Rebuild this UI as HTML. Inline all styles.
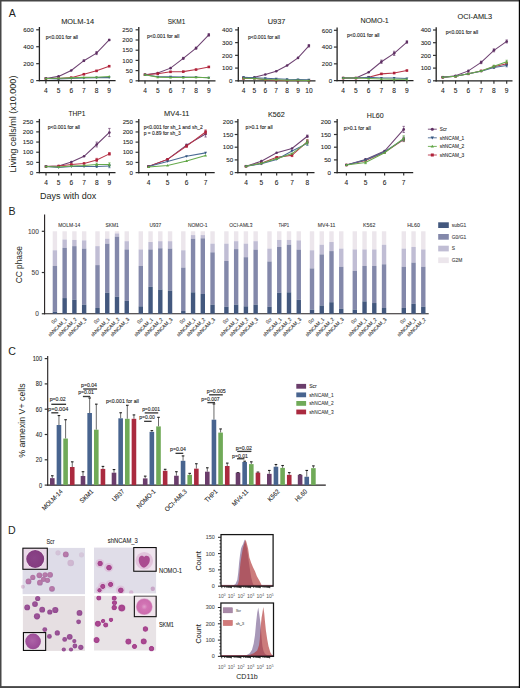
<!DOCTYPE html>
<html><head><meta charset="utf-8"><style>
html,body{margin:0;padding:0;background:#fff;}
svg{display:block;font-family:"Liberation Sans", sans-serif;}
</style></head><body>
<svg width="520" height="688" viewBox="0 0 520 688">
<rect x="0" y="0" width="520" height="688" fill="#fff"/>
<text x="8.70" y="16.80" font-size="10.6" fill="#231f20">A</text>
<line x1="39.40" y1="27.00" x2="39.40" y2="81.20" stroke="#222" stroke-width="1.3"/>
<line x1="36.20" y1="80.60" x2="39.40" y2="80.60" stroke="#333" stroke-width="1.2"/>
<text x="33.70" y="82.80" font-size="6.2" fill="#222" text-anchor="end" stroke="#222" stroke-width="0.08">0</text>
<line x1="36.20" y1="63.67" x2="39.40" y2="63.67" stroke="#333" stroke-width="1.2"/>
<text x="33.70" y="65.87" font-size="6.2" fill="#222" text-anchor="end" stroke="#222" stroke-width="0.08">200</text>
<line x1="36.20" y1="46.73" x2="39.40" y2="46.73" stroke="#333" stroke-width="1.2"/>
<text x="33.70" y="48.93" font-size="6.2" fill="#222" text-anchor="end" stroke="#222" stroke-width="0.08">400</text>
<line x1="36.20" y1="29.80" x2="39.40" y2="29.80" stroke="#333" stroke-width="1.2"/>
<text x="33.70" y="32.00" font-size="6.2" fill="#222" text-anchor="end" stroke="#222" stroke-width="0.08">600</text>
<line x1="38.80" y1="80.60" x2="115.60" y2="80.60" stroke="#222" stroke-width="1.3"/>
<line x1="45.90" y1="80.60" x2="45.90" y2="83.60" stroke="#333" stroke-width="1.2"/>
<text x="45.90" y="92.60" font-size="6.6" fill="#222" text-anchor="middle" stroke="#222" stroke-width="0.08">4</text>
<line x1="58.56" y1="80.60" x2="58.56" y2="83.60" stroke="#333" stroke-width="1.2"/>
<text x="58.56" y="92.60" font-size="6.6" fill="#222" text-anchor="middle" stroke="#222" stroke-width="0.08">5</text>
<line x1="71.22" y1="80.60" x2="71.22" y2="83.60" stroke="#333" stroke-width="1.2"/>
<text x="71.22" y="92.60" font-size="6.6" fill="#222" text-anchor="middle" stroke="#222" stroke-width="0.08">6</text>
<line x1="83.88" y1="80.60" x2="83.88" y2="83.60" stroke="#333" stroke-width="1.2"/>
<text x="83.88" y="92.60" font-size="6.6" fill="#222" text-anchor="middle" stroke="#222" stroke-width="0.08">7</text>
<line x1="96.54" y1="80.60" x2="96.54" y2="83.60" stroke="#333" stroke-width="1.2"/>
<text x="96.54" y="92.60" font-size="6.6" fill="#222" text-anchor="middle" stroke="#222" stroke-width="0.08">8</text>
<line x1="109.20" y1="80.60" x2="109.20" y2="83.60" stroke="#333" stroke-width="1.2"/>
<text x="109.20" y="92.60" font-size="6.6" fill="#222" text-anchor="middle" stroke="#222" stroke-width="0.08">9</text>
<text x="77.65" y="23.80" font-size="7.6" fill="#231f20" text-anchor="middle" textLength="33.00" lengthAdjust="spacingAndGlyphs" stroke="#231f20" stroke-width="0.08">MOLM-14</text>
<text x="45.80" y="38.50" font-size="5.0" fill="#222" textLength="32.20" lengthAdjust="spacingAndGlyphs" stroke="#222" stroke-width="0.1">p&lt;0.001 for all</text>
<polyline points="45.90,78.48 58.56,76.37 71.22,70.44 83.88,60.70 96.54,53.08 109.20,39.96" fill="none" stroke="#6e4272" stroke-width="1.05"/>
<circle cx="45.90" cy="78.48" r="1.30" fill="#5e2f63"/>
<circle cx="58.56" cy="76.37" r="1.30" fill="#5e2f63"/>
<circle cx="71.22" cy="70.44" r="1.30" fill="#5e2f63"/>
<line x1="83.88" y1="59.86" x2="83.88" y2="61.55" stroke="#6e4272" stroke-width="0.7"/>
<line x1="82.68" y1="59.86" x2="85.08" y2="59.86" stroke="#6e4272" stroke-width="0.7"/>
<line x1="82.68" y1="61.55" x2="85.08" y2="61.55" stroke="#6e4272" stroke-width="0.7"/>
<circle cx="83.88" cy="60.70" r="1.30" fill="#5e2f63"/>
<line x1="96.54" y1="51.56" x2="96.54" y2="54.61" stroke="#6e4272" stroke-width="0.7"/>
<line x1="95.34" y1="51.56" x2="97.74" y2="51.56" stroke="#6e4272" stroke-width="0.7"/>
<line x1="95.34" y1="54.61" x2="97.74" y2="54.61" stroke="#6e4272" stroke-width="0.7"/>
<circle cx="96.54" cy="53.08" r="1.30" fill="#5e2f63"/>
<line x1="109.20" y1="39.28" x2="109.20" y2="40.64" stroke="#6e4272" stroke-width="0.7"/>
<line x1="108.00" y1="39.28" x2="110.40" y2="39.28" stroke="#6e4272" stroke-width="0.7"/>
<line x1="108.00" y1="40.64" x2="110.40" y2="40.64" stroke="#6e4272" stroke-width="0.7"/>
<circle cx="109.20" cy="39.96" r="1.30" fill="#5e2f63"/>
<polyline points="45.90,78.48 58.56,78.48 71.22,77.64 83.88,74.25 96.54,70.86 109.20,66.21" fill="none" stroke="#b83448" stroke-width="1.05"/>
<rect x="44.60" y="77.18" width="2.60" height="2.60" fill="#b0223a"/>
<rect x="57.26" y="77.18" width="2.60" height="2.60" fill="#b0223a"/>
<rect x="69.92" y="76.34" width="2.60" height="2.60" fill="#b0223a"/>
<rect x="82.58" y="72.95" width="2.60" height="2.60" fill="#b0223a"/>
<rect x="95.24" y="69.56" width="2.60" height="2.60" fill="#b0223a"/>
<rect x="107.90" y="64.91" width="2.60" height="2.60" fill="#b0223a"/>
<polyline points="45.90,78.48 58.56,78.91 71.22,78.48 83.88,78.06 96.54,77.64 109.20,77.64" fill="none" stroke="#4b6b94" stroke-width="1.05"/>
<path d="M44.47 77.44 L47.33 77.44 L45.90 79.91Z" fill="#33557f"/>
<path d="M57.13 77.87 L59.99 77.87 L58.56 80.34Z" fill="#33557f"/>
<path d="M69.79 77.44 L72.65 77.44 L71.22 79.91Z" fill="#33557f"/>
<path d="M82.45 77.02 L85.31 77.02 L83.88 79.49Z" fill="#33557f"/>
<path d="M95.11 76.60 L97.97 76.60 L96.54 79.07Z" fill="#33557f"/>
<path d="M107.77 76.60 L110.63 76.60 L109.20 79.07Z" fill="#33557f"/>
<polyline points="45.90,78.48 58.56,78.23 71.22,77.89 83.88,77.38 96.54,77.21 109.20,76.54" fill="none" stroke="#66aa4c" stroke-width="1.05"/>
<path d="M44.47 79.52 L47.33 79.52 L45.90 77.05Z" fill="#5da443"/>
<path d="M57.13 79.27 L59.99 79.27 L58.56 76.80Z" fill="#5da443"/>
<path d="M69.79 78.93 L72.65 78.93 L71.22 76.46Z" fill="#5da443"/>
<path d="M82.45 78.42 L85.31 78.42 L83.88 75.95Z" fill="#5da443"/>
<path d="M95.11 78.25 L97.97 78.25 L96.54 75.78Z" fill="#5da443"/>
<path d="M107.77 77.58 L110.63 77.58 L109.20 75.11Z" fill="#5da443"/>
<line x1="138.80" y1="27.00" x2="138.80" y2="81.40" stroke="#222" stroke-width="1.3"/>
<line x1="135.60" y1="80.80" x2="138.80" y2="80.80" stroke="#333" stroke-width="1.2"/>
<text x="132.70" y="83.00" font-size="6.2" fill="#222" text-anchor="end" stroke="#222" stroke-width="0.08">0</text>
<line x1="135.60" y1="70.60" x2="138.80" y2="70.60" stroke="#333" stroke-width="1.2"/>
<text x="132.70" y="72.80" font-size="6.2" fill="#222" text-anchor="end" stroke="#222" stroke-width="0.08">50</text>
<line x1="135.60" y1="60.40" x2="138.80" y2="60.40" stroke="#333" stroke-width="1.2"/>
<text x="132.70" y="62.60" font-size="6.2" fill="#222" text-anchor="end" stroke="#222" stroke-width="0.08">100</text>
<line x1="135.60" y1="50.20" x2="138.80" y2="50.20" stroke="#333" stroke-width="1.2"/>
<text x="132.70" y="52.40" font-size="6.2" fill="#222" text-anchor="end" stroke="#222" stroke-width="0.08">150</text>
<line x1="135.60" y1="40.00" x2="138.80" y2="40.00" stroke="#333" stroke-width="1.2"/>
<text x="132.70" y="42.20" font-size="6.2" fill="#222" text-anchor="end" stroke="#222" stroke-width="0.08">200</text>
<line x1="135.60" y1="29.80" x2="138.80" y2="29.80" stroke="#333" stroke-width="1.2"/>
<text x="132.70" y="32.00" font-size="6.2" fill="#222" text-anchor="end" stroke="#222" stroke-width="0.08">250</text>
<line x1="138.20" y1="80.80" x2="215.50" y2="80.80" stroke="#222" stroke-width="1.3"/>
<line x1="145.00" y1="80.80" x2="145.00" y2="83.80" stroke="#333" stroke-width="1.2"/>
<text x="145.00" y="92.80" font-size="6.6" fill="#222" text-anchor="middle" stroke="#222" stroke-width="0.08">4</text>
<line x1="157.76" y1="80.80" x2="157.76" y2="83.80" stroke="#333" stroke-width="1.2"/>
<text x="157.76" y="92.80" font-size="6.6" fill="#222" text-anchor="middle" stroke="#222" stroke-width="0.08">5</text>
<line x1="170.52" y1="80.80" x2="170.52" y2="83.80" stroke="#333" stroke-width="1.2"/>
<text x="170.52" y="92.80" font-size="6.6" fill="#222" text-anchor="middle" stroke="#222" stroke-width="0.08">6</text>
<line x1="183.28" y1="80.80" x2="183.28" y2="83.80" stroke="#333" stroke-width="1.2"/>
<text x="183.28" y="92.80" font-size="6.6" fill="#222" text-anchor="middle" stroke="#222" stroke-width="0.08">7</text>
<line x1="196.04" y1="80.80" x2="196.04" y2="83.80" stroke="#333" stroke-width="1.2"/>
<text x="196.04" y="92.80" font-size="6.6" fill="#222" text-anchor="middle" stroke="#222" stroke-width="0.08">8</text>
<line x1="208.80" y1="80.80" x2="208.80" y2="83.80" stroke="#333" stroke-width="1.2"/>
<text x="208.80" y="92.80" font-size="6.6" fill="#222" text-anchor="middle" stroke="#222" stroke-width="0.08">9</text>
<text x="176.55" y="23.80" font-size="7.6" fill="#231f20" text-anchor="middle" textLength="17.60" lengthAdjust="spacingAndGlyphs" stroke="#231f20" stroke-width="0.08">SKM1</text>
<text x="147.00" y="38.30" font-size="5.0" fill="#222" textLength="32.30" lengthAdjust="spacingAndGlyphs" stroke="#222" stroke-width="0.1">p&lt;0.001 for all</text>
<polyline points="145.00,74.68 157.76,73.05 170.52,68.15 183.28,58.36 196.04,48.16 208.80,34.90" fill="none" stroke="#6e4272" stroke-width="1.05"/>
<circle cx="145.00" cy="74.68" r="1.30" fill="#5e2f63"/>
<circle cx="157.76" cy="73.05" r="1.30" fill="#5e2f63"/>
<circle cx="170.52" cy="68.15" r="1.30" fill="#5e2f63"/>
<line x1="183.28" y1="57.34" x2="183.28" y2="59.38" stroke="#6e4272" stroke-width="0.7"/>
<line x1="182.08" y1="57.34" x2="184.48" y2="57.34" stroke="#6e4272" stroke-width="0.7"/>
<line x1="182.08" y1="59.38" x2="184.48" y2="59.38" stroke="#6e4272" stroke-width="0.7"/>
<circle cx="183.28" cy="58.36" r="1.30" fill="#5e2f63"/>
<line x1="196.04" y1="47.14" x2="196.04" y2="49.18" stroke="#6e4272" stroke-width="0.7"/>
<line x1="194.84" y1="47.14" x2="197.24" y2="47.14" stroke="#6e4272" stroke-width="0.7"/>
<line x1="194.84" y1="49.18" x2="197.24" y2="49.18" stroke="#6e4272" stroke-width="0.7"/>
<circle cx="196.04" cy="48.16" r="1.30" fill="#5e2f63"/>
<line x1="208.80" y1="33.68" x2="208.80" y2="36.12" stroke="#6e4272" stroke-width="0.7"/>
<line x1="207.60" y1="33.68" x2="210.00" y2="33.68" stroke="#6e4272" stroke-width="0.7"/>
<line x1="207.60" y1="36.12" x2="210.00" y2="36.12" stroke="#6e4272" stroke-width="0.7"/>
<circle cx="208.80" cy="34.90" r="1.30" fill="#5e2f63"/>
<polyline points="145.00,74.68 157.76,73.66 170.52,71.82 183.28,71.62 196.04,69.58 208.80,66.93" fill="none" stroke="#b83448" stroke-width="1.05"/>
<rect x="143.70" y="73.38" width="2.60" height="2.60" fill="#b0223a"/>
<rect x="156.46" y="72.36" width="2.60" height="2.60" fill="#b0223a"/>
<rect x="169.22" y="70.52" width="2.60" height="2.60" fill="#b0223a"/>
<rect x="181.98" y="70.32" width="2.60" height="2.60" fill="#b0223a"/>
<rect x="194.74" y="68.28" width="2.60" height="2.60" fill="#b0223a"/>
<rect x="207.50" y="65.63" width="2.60" height="2.60" fill="#b0223a"/>
<polyline points="145.00,74.68 157.76,76.72 170.52,76.72 183.28,77.13 196.04,77.33 208.80,77.74" fill="none" stroke="#4b6b94" stroke-width="1.05"/>
<path d="M143.57 73.64 L146.43 73.64 L145.00 76.11Z" fill="#33557f"/>
<path d="M156.33 75.68 L159.19 75.68 L157.76 78.15Z" fill="#33557f"/>
<path d="M169.09 75.68 L171.95 75.68 L170.52 78.15Z" fill="#33557f"/>
<path d="M181.85 76.09 L184.71 76.09 L183.28 78.56Z" fill="#33557f"/>
<path d="M194.61 76.29 L197.47 76.29 L196.04 78.76Z" fill="#33557f"/>
<path d="M207.37 76.70 L210.23 76.70 L208.80 79.17Z" fill="#33557f"/>
<polyline points="145.00,74.68 157.76,77.13 170.52,77.54 183.28,77.54 196.04,77.33 208.80,77.74" fill="none" stroke="#66aa4c" stroke-width="1.05"/>
<path d="M143.57 75.72 L146.43 75.72 L145.00 73.25Z" fill="#5da443"/>
<path d="M156.33 78.17 L159.19 78.17 L157.76 75.70Z" fill="#5da443"/>
<path d="M169.09 78.58 L171.95 78.58 L170.52 76.11Z" fill="#5da443"/>
<path d="M181.85 78.58 L184.71 78.58 L183.28 76.11Z" fill="#5da443"/>
<path d="M194.61 78.37 L197.47 78.37 L196.04 75.90Z" fill="#5da443"/>
<path d="M207.37 78.78 L210.23 78.78 L208.80 76.31Z" fill="#5da443"/>
<line x1="238.30" y1="27.10" x2="238.30" y2="81.40" stroke="#222" stroke-width="1.3"/>
<line x1="235.10" y1="80.80" x2="238.30" y2="80.80" stroke="#333" stroke-width="1.2"/>
<text x="232.40" y="83.00" font-size="6.2" fill="#222" text-anchor="end" stroke="#222" stroke-width="0.08">0</text>
<line x1="235.10" y1="68.08" x2="238.30" y2="68.08" stroke="#333" stroke-width="1.2"/>
<text x="232.40" y="70.28" font-size="6.2" fill="#222" text-anchor="end" stroke="#222" stroke-width="0.08">100</text>
<line x1="235.10" y1="55.35" x2="238.30" y2="55.35" stroke="#333" stroke-width="1.2"/>
<text x="232.40" y="57.55" font-size="6.2" fill="#222" text-anchor="end" stroke="#222" stroke-width="0.08">200</text>
<line x1="235.10" y1="42.62" x2="238.30" y2="42.62" stroke="#333" stroke-width="1.2"/>
<text x="232.40" y="44.83" font-size="6.2" fill="#222" text-anchor="end" stroke="#222" stroke-width="0.08">300</text>
<line x1="235.10" y1="29.90" x2="238.30" y2="29.90" stroke="#333" stroke-width="1.2"/>
<text x="232.40" y="32.10" font-size="6.2" fill="#222" text-anchor="end" stroke="#222" stroke-width="0.08">400</text>
<line x1="237.70" y1="80.80" x2="315.50" y2="80.80" stroke="#222" stroke-width="1.3"/>
<line x1="243.50" y1="80.80" x2="243.50" y2="83.80" stroke="#333" stroke-width="1.2"/>
<text x="243.50" y="92.80" font-size="6.6" fill="#222" text-anchor="middle" stroke="#222" stroke-width="0.08">4</text>
<line x1="254.40" y1="80.80" x2="254.40" y2="83.80" stroke="#333" stroke-width="1.2"/>
<text x="254.40" y="92.80" font-size="6.6" fill="#222" text-anchor="middle" stroke="#222" stroke-width="0.08">5</text>
<line x1="265.30" y1="80.80" x2="265.30" y2="83.80" stroke="#333" stroke-width="1.2"/>
<text x="265.30" y="92.80" font-size="6.6" fill="#222" text-anchor="middle" stroke="#222" stroke-width="0.08">6</text>
<line x1="276.20" y1="80.80" x2="276.20" y2="83.80" stroke="#333" stroke-width="1.2"/>
<text x="276.20" y="92.80" font-size="6.6" fill="#222" text-anchor="middle" stroke="#222" stroke-width="0.08">7</text>
<line x1="287.10" y1="80.80" x2="287.10" y2="83.80" stroke="#333" stroke-width="1.2"/>
<text x="287.10" y="92.80" font-size="6.6" fill="#222" text-anchor="middle" stroke="#222" stroke-width="0.08">8</text>
<line x1="298.00" y1="80.80" x2="298.00" y2="83.80" stroke="#333" stroke-width="1.2"/>
<text x="298.00" y="92.80" font-size="6.6" fill="#222" text-anchor="middle" stroke="#222" stroke-width="0.08">9</text>
<line x1="308.90" y1="80.80" x2="308.90" y2="83.80" stroke="#333" stroke-width="1.2"/>
<text x="308.90" y="92.80" font-size="6.6" fill="#222" text-anchor="middle" stroke="#222" stroke-width="0.08">10</text>
<text x="276.55" y="24.40" font-size="7.6" fill="#231f20" text-anchor="middle" textLength="17.60" lengthAdjust="spacingAndGlyphs" stroke="#231f20" stroke-width="0.08">U937</text>
<text x="248.00" y="38.50" font-size="5.0" fill="#222" textLength="31.80" lengthAdjust="spacingAndGlyphs" stroke="#222" stroke-width="0.1">p&lt;0.001 for all</text>
<polyline points="243.50,77.62 254.40,77.24 265.30,74.44 276.20,71.26 287.10,65.53 298.00,57.89 308.90,45.81" fill="none" stroke="#6e4272" stroke-width="1.05"/>
<circle cx="243.50" cy="77.62" r="1.30" fill="#5e2f63"/>
<circle cx="254.40" cy="77.24" r="1.30" fill="#5e2f63"/>
<circle cx="265.30" cy="74.44" r="1.30" fill="#5e2f63"/>
<circle cx="276.20" cy="71.26" r="1.30" fill="#5e2f63"/>
<circle cx="287.10" cy="65.53" r="1.30" fill="#5e2f63"/>
<circle cx="298.00" cy="57.89" r="1.30" fill="#5e2f63"/>
<line x1="308.90" y1="44.53" x2="308.90" y2="47.08" stroke="#6e4272" stroke-width="0.7"/>
<line x1="307.70" y1="44.53" x2="310.10" y2="44.53" stroke="#6e4272" stroke-width="0.7"/>
<line x1="307.70" y1="47.08" x2="310.10" y2="47.08" stroke="#6e4272" stroke-width="0.7"/>
<circle cx="308.90" cy="45.81" r="1.30" fill="#5e2f63"/>
<polyline points="243.50,78.51 254.40,78.25 265.30,79.78 276.20,80.16 287.10,80.42 298.00,80.42 308.90,80.55" fill="none" stroke="#b83448" stroke-width="1.05"/>
<rect x="242.20" y="77.21" width="2.60" height="2.60" fill="#b0223a"/>
<rect x="253.10" y="76.95" width="2.60" height="2.60" fill="#b0223a"/>
<rect x="264.00" y="78.48" width="2.60" height="2.60" fill="#b0223a"/>
<rect x="274.90" y="78.86" width="2.60" height="2.60" fill="#b0223a"/>
<rect x="285.80" y="79.12" width="2.60" height="2.60" fill="#b0223a"/>
<rect x="296.70" y="79.12" width="2.60" height="2.60" fill="#b0223a"/>
<rect x="307.60" y="79.25" width="2.60" height="2.60" fill="#b0223a"/>
<polyline points="243.50,77.24 254.40,77.75 265.30,78.25 276.20,78.76 287.10,79.27 298.00,79.53 308.90,79.78" fill="none" stroke="#4b6b94" stroke-width="1.05"/>
<path d="M242.07 76.20 L244.93 76.20 L243.50 78.67Z" fill="#33557f"/>
<path d="M252.97 76.71 L255.83 76.71 L254.40 79.18Z" fill="#33557f"/>
<path d="M263.87 77.21 L266.73 77.21 L265.30 79.69Z" fill="#33557f"/>
<path d="M274.77 77.72 L277.63 77.72 L276.20 80.19Z" fill="#33557f"/>
<path d="M285.67 78.23 L288.53 78.23 L287.10 80.70Z" fill="#33557f"/>
<path d="M296.57 78.49 L299.43 78.49 L298.00 80.96Z" fill="#33557f"/>
<path d="M307.47 78.74 L310.33 78.74 L308.90 81.21Z" fill="#33557f"/>
<polyline points="243.50,78.25 254.40,78.51 265.30,79.53 276.20,79.78 287.10,80.16 298.00,80.29 308.90,80.42" fill="none" stroke="#66aa4c" stroke-width="1.05"/>
<path d="M242.07 79.30 L244.93 79.30 L243.50 76.82Z" fill="#5da443"/>
<path d="M252.97 79.55 L255.83 79.55 L254.40 77.08Z" fill="#5da443"/>
<path d="M263.87 80.57 L266.73 80.57 L265.30 78.10Z" fill="#5da443"/>
<path d="M274.77 80.82 L277.63 80.82 L276.20 78.35Z" fill="#5da443"/>
<path d="M285.67 81.20 L288.53 81.20 L287.10 78.73Z" fill="#5da443"/>
<path d="M296.57 81.33 L299.43 81.33 L298.00 78.86Z" fill="#5da443"/>
<path d="M307.47 81.46 L310.33 81.46 L308.90 78.99Z" fill="#5da443"/>
<line x1="337.10" y1="27.50" x2="337.10" y2="81.20" stroke="#222" stroke-width="1.3"/>
<line x1="333.90" y1="80.60" x2="337.10" y2="80.60" stroke="#333" stroke-width="1.2"/>
<text x="332.10" y="82.80" font-size="6.2" fill="#222" text-anchor="end" stroke="#222" stroke-width="0.08">0</text>
<line x1="333.90" y1="63.83" x2="337.10" y2="63.83" stroke="#333" stroke-width="1.2"/>
<text x="332.10" y="66.03" font-size="6.2" fill="#222" text-anchor="end" stroke="#222" stroke-width="0.08">200</text>
<line x1="333.90" y1="47.07" x2="337.10" y2="47.07" stroke="#333" stroke-width="1.2"/>
<text x="332.10" y="49.27" font-size="6.2" fill="#222" text-anchor="end" stroke="#222" stroke-width="0.08">400</text>
<line x1="333.90" y1="30.30" x2="337.10" y2="30.30" stroke="#333" stroke-width="1.2"/>
<text x="332.10" y="32.50" font-size="6.2" fill="#222" text-anchor="end" stroke="#222" stroke-width="0.08">600</text>
<line x1="336.50" y1="80.60" x2="413.50" y2="80.60" stroke="#222" stroke-width="1.3"/>
<line x1="343.20" y1="80.60" x2="343.20" y2="83.60" stroke="#333" stroke-width="1.2"/>
<text x="343.20" y="92.60" font-size="6.6" fill="#222" text-anchor="middle" stroke="#222" stroke-width="0.08">4</text>
<line x1="355.94" y1="80.60" x2="355.94" y2="83.60" stroke="#333" stroke-width="1.2"/>
<text x="355.94" y="92.60" font-size="6.6" fill="#222" text-anchor="middle" stroke="#222" stroke-width="0.08">5</text>
<line x1="368.68" y1="80.60" x2="368.68" y2="83.60" stroke="#333" stroke-width="1.2"/>
<text x="368.68" y="92.60" font-size="6.6" fill="#222" text-anchor="middle" stroke="#222" stroke-width="0.08">6</text>
<line x1="381.42" y1="80.60" x2="381.42" y2="83.60" stroke="#333" stroke-width="1.2"/>
<text x="381.42" y="92.60" font-size="6.6" fill="#222" text-anchor="middle" stroke="#222" stroke-width="0.08">7</text>
<line x1="394.16" y1="80.60" x2="394.16" y2="83.60" stroke="#333" stroke-width="1.2"/>
<text x="394.16" y="92.60" font-size="6.6" fill="#222" text-anchor="middle" stroke="#222" stroke-width="0.08">8</text>
<line x1="406.90" y1="80.60" x2="406.90" y2="83.60" stroke="#333" stroke-width="1.2"/>
<text x="406.90" y="92.60" font-size="6.6" fill="#222" text-anchor="middle" stroke="#222" stroke-width="0.08">9</text>
<text x="374.60" y="22.60" font-size="7.6" fill="#231f20" text-anchor="middle" textLength="28.40" lengthAdjust="spacingAndGlyphs" stroke="#231f20" stroke-width="0.08">NOMO-1</text>
<text x="347.00" y="37.10" font-size="5.0" fill="#222" textLength="32.50" lengthAdjust="spacingAndGlyphs" stroke="#222" stroke-width="0.1">p&lt;0.001 for all</text>
<polyline points="343.20,78.08 355.94,78.08 368.68,72.22 381.42,61.74 394.16,53.35 406.90,42.04" fill="none" stroke="#6e4272" stroke-width="1.05"/>
<circle cx="343.20" cy="78.08" r="1.30" fill="#5e2f63"/>
<circle cx="355.94" cy="78.08" r="1.30" fill="#5e2f63"/>
<circle cx="368.68" cy="72.22" r="1.30" fill="#5e2f63"/>
<line x1="381.42" y1="60.06" x2="381.42" y2="63.41" stroke="#6e4272" stroke-width="0.7"/>
<line x1="380.22" y1="60.06" x2="382.62" y2="60.06" stroke="#6e4272" stroke-width="0.7"/>
<line x1="380.22" y1="63.41" x2="382.62" y2="63.41" stroke="#6e4272" stroke-width="0.7"/>
<circle cx="381.42" cy="61.74" r="1.30" fill="#5e2f63"/>
<line x1="394.16" y1="51.26" x2="394.16" y2="55.45" stroke="#6e4272" stroke-width="0.7"/>
<line x1="392.96" y1="51.26" x2="395.36" y2="51.26" stroke="#6e4272" stroke-width="0.7"/>
<line x1="392.96" y1="55.45" x2="395.36" y2="55.45" stroke="#6e4272" stroke-width="0.7"/>
<circle cx="394.16" cy="53.35" r="1.30" fill="#5e2f63"/>
<line x1="406.90" y1="40.78" x2="406.90" y2="43.29" stroke="#6e4272" stroke-width="0.7"/>
<line x1="405.70" y1="40.78" x2="408.10" y2="40.78" stroke="#6e4272" stroke-width="0.7"/>
<line x1="405.70" y1="43.29" x2="408.10" y2="43.29" stroke="#6e4272" stroke-width="0.7"/>
<circle cx="406.90" cy="42.04" r="1.30" fill="#5e2f63"/>
<polyline points="343.20,78.08 355.94,78.08 368.68,77.25 381.42,73.89 394.16,73.05 406.90,70.54" fill="none" stroke="#b83448" stroke-width="1.05"/>
<rect x="341.90" y="76.78" width="2.60" height="2.60" fill="#b0223a"/>
<rect x="354.64" y="76.78" width="2.60" height="2.60" fill="#b0223a"/>
<rect x="367.38" y="75.95" width="2.60" height="2.60" fill="#b0223a"/>
<rect x="380.12" y="72.59" width="2.60" height="2.60" fill="#b0223a"/>
<rect x="392.86" y="71.75" width="2.60" height="2.60" fill="#b0223a"/>
<rect x="405.60" y="69.24" width="2.60" height="2.60" fill="#b0223a"/>
<polyline points="343.20,78.08 355.94,78.08 368.68,77.25 381.42,78.08 394.16,78.08 406.90,78.50" fill="none" stroke="#4b6b94" stroke-width="1.05"/>
<path d="M341.77 77.04 L344.63 77.04 L343.20 79.52Z" fill="#33557f"/>
<path d="M354.51 77.04 L357.37 77.04 L355.94 79.52Z" fill="#33557f"/>
<path d="M367.25 76.21 L370.11 76.21 L368.68 78.68Z" fill="#33557f"/>
<path d="M379.99 77.04 L382.85 77.04 L381.42 79.52Z" fill="#33557f"/>
<path d="M392.73 77.04 L395.59 77.04 L394.16 79.52Z" fill="#33557f"/>
<path d="M405.47 77.46 L408.33 77.46 L406.90 79.93Z" fill="#33557f"/>
<polyline points="343.20,78.08 355.94,78.08 368.68,78.50 381.42,78.92 394.16,79.34 406.90,79.34" fill="none" stroke="#66aa4c" stroke-width="1.05"/>
<path d="M341.77 79.12 L344.63 79.12 L343.20 76.65Z" fill="#5da443"/>
<path d="M354.51 79.12 L357.37 79.12 L355.94 76.65Z" fill="#5da443"/>
<path d="M367.25 79.54 L370.11 79.54 L368.68 77.07Z" fill="#5da443"/>
<path d="M379.99 79.96 L382.85 79.96 L381.42 77.49Z" fill="#5da443"/>
<path d="M392.73 80.38 L395.59 80.38 L394.16 77.91Z" fill="#5da443"/>
<path d="M405.47 80.38 L408.33 80.38 L406.90 77.91Z" fill="#5da443"/>
<line x1="436.20" y1="27.20" x2="436.20" y2="81.40" stroke="#222" stroke-width="1.3"/>
<line x1="433.00" y1="80.80" x2="436.20" y2="80.80" stroke="#333" stroke-width="1.2"/>
<text x="431.00" y="83.00" font-size="6.2" fill="#222" text-anchor="end" stroke="#222" stroke-width="0.08">0</text>
<line x1="433.00" y1="68.10" x2="436.20" y2="68.10" stroke="#333" stroke-width="1.2"/>
<text x="431.00" y="70.30" font-size="6.2" fill="#222" text-anchor="end" stroke="#222" stroke-width="0.08">100</text>
<line x1="433.00" y1="55.40" x2="436.20" y2="55.40" stroke="#333" stroke-width="1.2"/>
<text x="431.00" y="57.60" font-size="6.2" fill="#222" text-anchor="end" stroke="#222" stroke-width="0.08">200</text>
<line x1="433.00" y1="42.70" x2="436.20" y2="42.70" stroke="#333" stroke-width="1.2"/>
<text x="431.00" y="44.90" font-size="6.2" fill="#222" text-anchor="end" stroke="#222" stroke-width="0.08">300</text>
<line x1="433.00" y1="30.00" x2="436.20" y2="30.00" stroke="#333" stroke-width="1.2"/>
<text x="431.00" y="32.20" font-size="6.2" fill="#222" text-anchor="end" stroke="#222" stroke-width="0.08">400</text>
<line x1="435.60" y1="80.80" x2="512.50" y2="80.80" stroke="#222" stroke-width="1.3"/>
<line x1="442.80" y1="80.80" x2="442.80" y2="83.80" stroke="#333" stroke-width="1.2"/>
<text x="442.80" y="92.80" font-size="6.6" fill="#222" text-anchor="middle" stroke="#222" stroke-width="0.08">4</text>
<line x1="455.58" y1="80.80" x2="455.58" y2="83.80" stroke="#333" stroke-width="1.2"/>
<text x="455.58" y="92.80" font-size="6.6" fill="#222" text-anchor="middle" stroke="#222" stroke-width="0.08">5</text>
<line x1="468.36" y1="80.80" x2="468.36" y2="83.80" stroke="#333" stroke-width="1.2"/>
<text x="468.36" y="92.80" font-size="6.6" fill="#222" text-anchor="middle" stroke="#222" stroke-width="0.08">6</text>
<line x1="481.14" y1="80.80" x2="481.14" y2="83.80" stroke="#333" stroke-width="1.2"/>
<text x="481.14" y="92.80" font-size="6.6" fill="#222" text-anchor="middle" stroke="#222" stroke-width="0.08">7</text>
<line x1="493.92" y1="80.80" x2="493.92" y2="83.80" stroke="#333" stroke-width="1.2"/>
<text x="493.92" y="92.80" font-size="6.6" fill="#222" text-anchor="middle" stroke="#222" stroke-width="0.08">8</text>
<line x1="506.70" y1="80.80" x2="506.70" y2="83.80" stroke="#333" stroke-width="1.2"/>
<text x="506.70" y="92.80" font-size="6.6" fill="#222" text-anchor="middle" stroke="#222" stroke-width="0.08">9</text>
<text x="474.85" y="18.80" font-size="7.6" fill="#231f20" text-anchor="middle" textLength="34.70" lengthAdjust="spacingAndGlyphs" stroke="#231f20" stroke-width="0.08">OCI-AML3</text>
<text x="445.70" y="33.80" font-size="5.0" fill="#222" textLength="32.50" lengthAdjust="spacingAndGlyphs" stroke="#222" stroke-width="0.1">p&lt;0.001 for all</text>
<polyline points="442.80,77.24 455.58,75.72 468.36,70.89 481.14,62.38 493.92,50.32 506.70,41.43" fill="none" stroke="#6e4272" stroke-width="1.05"/>
<circle cx="442.80" cy="77.24" r="1.30" fill="#5e2f63"/>
<circle cx="455.58" cy="75.72" r="1.30" fill="#5e2f63"/>
<circle cx="468.36" cy="70.89" r="1.30" fill="#5e2f63"/>
<line x1="481.14" y1="61.11" x2="481.14" y2="63.66" stroke="#6e4272" stroke-width="0.7"/>
<line x1="479.94" y1="61.11" x2="482.34" y2="61.11" stroke="#6e4272" stroke-width="0.7"/>
<line x1="479.94" y1="63.66" x2="482.34" y2="63.66" stroke="#6e4272" stroke-width="0.7"/>
<circle cx="481.14" cy="62.38" r="1.30" fill="#5e2f63"/>
<line x1="493.92" y1="48.80" x2="493.92" y2="51.84" stroke="#6e4272" stroke-width="0.7"/>
<line x1="492.72" y1="48.80" x2="495.12" y2="48.80" stroke="#6e4272" stroke-width="0.7"/>
<line x1="492.72" y1="51.84" x2="495.12" y2="51.84" stroke="#6e4272" stroke-width="0.7"/>
<circle cx="493.92" cy="50.32" r="1.30" fill="#5e2f63"/>
<line x1="506.70" y1="39.91" x2="506.70" y2="42.95" stroke="#6e4272" stroke-width="0.7"/>
<line x1="505.50" y1="39.91" x2="507.90" y2="39.91" stroke="#6e4272" stroke-width="0.7"/>
<line x1="505.50" y1="42.95" x2="507.90" y2="42.95" stroke="#6e4272" stroke-width="0.7"/>
<circle cx="506.70" cy="41.43" r="1.30" fill="#5e2f63"/>
<polyline points="442.80,77.24 455.58,76.35 468.36,73.81 481.14,70.89 493.92,66.83 506.70,63.66" fill="none" stroke="#b83448" stroke-width="1.05"/>
<rect x="441.50" y="75.94" width="2.60" height="2.60" fill="#b0223a"/>
<rect x="454.28" y="75.05" width="2.60" height="2.60" fill="#b0223a"/>
<rect x="467.06" y="72.52" width="2.60" height="2.60" fill="#b0223a"/>
<rect x="479.84" y="69.59" width="2.60" height="2.60" fill="#b0223a"/>
<line x1="493.92" y1="65.81" x2="493.92" y2="67.85" stroke="#b83448" stroke-width="0.7"/>
<line x1="492.72" y1="65.81" x2="495.12" y2="65.81" stroke="#b83448" stroke-width="0.7"/>
<line x1="492.72" y1="67.85" x2="495.12" y2="67.85" stroke="#b83448" stroke-width="0.7"/>
<rect x="492.62" y="65.53" width="2.60" height="2.60" fill="#b0223a"/>
<line x1="506.70" y1="62.13" x2="506.70" y2="65.18" stroke="#b83448" stroke-width="0.7"/>
<line x1="505.50" y1="62.13" x2="507.90" y2="62.13" stroke="#b83448" stroke-width="0.7"/>
<line x1="505.50" y1="65.18" x2="507.90" y2="65.18" stroke="#b83448" stroke-width="0.7"/>
<rect x="505.40" y="62.36" width="2.60" height="2.60" fill="#b0223a"/>
<polyline points="442.80,77.24 455.58,76.35 468.36,73.81 481.14,71.27 493.92,67.47 506.70,65.56" fill="none" stroke="#4b6b94" stroke-width="1.05"/>
<path d="M441.37 76.20 L444.23 76.20 L442.80 78.67Z" fill="#33557f"/>
<path d="M454.15 75.31 L457.01 75.31 L455.58 77.78Z" fill="#33557f"/>
<path d="M466.93 72.77 L469.79 72.77 L468.36 75.25Z" fill="#33557f"/>
<path d="M479.71 70.23 L482.57 70.23 L481.14 72.70Z" fill="#33557f"/>
<line x1="493.92" y1="66.45" x2="493.92" y2="68.48" stroke="#4b6b94" stroke-width="0.7"/>
<line x1="492.72" y1="66.45" x2="495.12" y2="66.45" stroke="#4b6b94" stroke-width="0.7"/>
<line x1="492.72" y1="68.48" x2="495.12" y2="68.48" stroke="#4b6b94" stroke-width="0.7"/>
<path d="M492.49 66.42 L495.35 66.42 L493.92 68.90Z" fill="#33557f"/>
<line x1="506.70" y1="64.29" x2="506.70" y2="66.83" stroke="#4b6b94" stroke-width="0.7"/>
<line x1="505.50" y1="64.29" x2="507.90" y2="64.29" stroke="#4b6b94" stroke-width="0.7"/>
<line x1="505.50" y1="66.83" x2="507.90" y2="66.83" stroke="#4b6b94" stroke-width="0.7"/>
<path d="M505.27 64.52 L508.13 64.52 L506.70 66.99Z" fill="#33557f"/>
<polyline points="442.80,77.24 455.58,76.35 468.36,73.81 481.14,70.89 493.92,66.19 506.70,61.75" fill="none" stroke="#66aa4c" stroke-width="1.05"/>
<path d="M441.37 78.28 L444.23 78.28 L442.80 75.81Z" fill="#5da443"/>
<path d="M454.15 77.39 L457.01 77.39 L455.58 74.92Z" fill="#5da443"/>
<path d="M466.93 74.86 L469.79 74.86 L468.36 72.38Z" fill="#5da443"/>
<path d="M479.71 71.93 L482.57 71.93 L481.14 69.46Z" fill="#5da443"/>
<line x1="493.92" y1="65.18" x2="493.92" y2="67.21" stroke="#66aa4c" stroke-width="0.7"/>
<line x1="492.72" y1="65.18" x2="495.12" y2="65.18" stroke="#66aa4c" stroke-width="0.7"/>
<line x1="492.72" y1="67.21" x2="495.12" y2="67.21" stroke="#66aa4c" stroke-width="0.7"/>
<path d="M492.49 67.23 L495.35 67.23 L493.92 64.76Z" fill="#5da443"/>
<line x1="506.70" y1="60.23" x2="506.70" y2="63.27" stroke="#66aa4c" stroke-width="0.7"/>
<line x1="505.50" y1="60.23" x2="507.90" y2="60.23" stroke="#66aa4c" stroke-width="0.7"/>
<line x1="505.50" y1="63.27" x2="507.90" y2="63.27" stroke="#66aa4c" stroke-width="0.7"/>
<path d="M505.27 62.79 L508.13 62.79 L506.70 60.32Z" fill="#5da443"/>
<line x1="39.40" y1="118.90" x2="39.40" y2="173.20" stroke="#222" stroke-width="1.3"/>
<line x1="36.20" y1="172.60" x2="39.40" y2="172.60" stroke="#333" stroke-width="1.2"/>
<text x="33.10" y="174.80" font-size="6.2" fill="#222" text-anchor="end" stroke="#222" stroke-width="0.08">0</text>
<line x1="36.20" y1="162.42" x2="39.40" y2="162.42" stroke="#333" stroke-width="1.2"/>
<text x="33.10" y="164.62" font-size="6.2" fill="#222" text-anchor="end" stroke="#222" stroke-width="0.08">50</text>
<line x1="36.20" y1="152.24" x2="39.40" y2="152.24" stroke="#333" stroke-width="1.2"/>
<text x="33.10" y="154.44" font-size="6.2" fill="#222" text-anchor="end" stroke="#222" stroke-width="0.08">100</text>
<line x1="36.20" y1="142.06" x2="39.40" y2="142.06" stroke="#333" stroke-width="1.2"/>
<text x="33.10" y="144.26" font-size="6.2" fill="#222" text-anchor="end" stroke="#222" stroke-width="0.08">150</text>
<line x1="36.20" y1="131.88" x2="39.40" y2="131.88" stroke="#333" stroke-width="1.2"/>
<text x="33.10" y="134.08" font-size="6.2" fill="#222" text-anchor="end" stroke="#222" stroke-width="0.08">200</text>
<line x1="36.20" y1="121.70" x2="39.40" y2="121.70" stroke="#333" stroke-width="1.2"/>
<text x="33.10" y="123.90" font-size="6.2" fill="#222" text-anchor="end" stroke="#222" stroke-width="0.08">250</text>
<line x1="38.80" y1="172.60" x2="115.50" y2="172.60" stroke="#222" stroke-width="1.3"/>
<line x1="46.00" y1="172.60" x2="46.00" y2="175.60" stroke="#333" stroke-width="1.2"/>
<text x="46.00" y="184.60" font-size="6.6" fill="#222" text-anchor="middle" stroke="#222" stroke-width="0.08">4</text>
<line x1="58.68" y1="172.60" x2="58.68" y2="175.60" stroke="#333" stroke-width="1.2"/>
<text x="58.68" y="184.60" font-size="6.6" fill="#222" text-anchor="middle" stroke="#222" stroke-width="0.08">5</text>
<line x1="71.36" y1="172.60" x2="71.36" y2="175.60" stroke="#333" stroke-width="1.2"/>
<text x="71.36" y="184.60" font-size="6.6" fill="#222" text-anchor="middle" stroke="#222" stroke-width="0.08">6</text>
<line x1="84.04" y1="172.60" x2="84.04" y2="175.60" stroke="#333" stroke-width="1.2"/>
<text x="84.04" y="184.60" font-size="6.6" fill="#222" text-anchor="middle" stroke="#222" stroke-width="0.08">7</text>
<line x1="96.72" y1="172.60" x2="96.72" y2="175.60" stroke="#333" stroke-width="1.2"/>
<text x="96.72" y="184.60" font-size="6.6" fill="#222" text-anchor="middle" stroke="#222" stroke-width="0.08">8</text>
<line x1="109.40" y1="172.60" x2="109.40" y2="175.60" stroke="#333" stroke-width="1.2"/>
<text x="109.40" y="184.60" font-size="6.6" fill="#222" text-anchor="middle" stroke="#222" stroke-width="0.08">9</text>
<text x="76.95" y="116.40" font-size="7.6" fill="#231f20" text-anchor="middle" textLength="16.90" lengthAdjust="spacingAndGlyphs" stroke="#231f20" stroke-width="0.08">THP1</text>
<text x="47.80" y="128.50" font-size="5.0" fill="#222" textLength="32.20" lengthAdjust="spacingAndGlyphs" stroke="#222" stroke-width="0.1">p&lt;0.001 for all</text>
<polyline points="46.00,166.49 58.68,166.08 71.36,162.01 84.04,156.31 96.72,144.50 109.40,132.49" fill="none" stroke="#6e4272" stroke-width="1.05"/>
<circle cx="46.00" cy="166.49" r="1.30" fill="#5e2f63"/>
<circle cx="58.68" cy="166.08" r="1.30" fill="#5e2f63"/>
<circle cx="71.36" cy="162.01" r="1.30" fill="#5e2f63"/>
<circle cx="84.04" cy="156.31" r="1.30" fill="#5e2f63"/>
<line x1="96.72" y1="142.06" x2="96.72" y2="146.95" stroke="#6e4272" stroke-width="0.7"/>
<line x1="95.52" y1="142.06" x2="97.92" y2="142.06" stroke="#6e4272" stroke-width="0.7"/>
<line x1="95.52" y1="146.95" x2="97.92" y2="146.95" stroke="#6e4272" stroke-width="0.7"/>
<circle cx="96.72" cy="144.50" r="1.30" fill="#5e2f63"/>
<line x1="109.40" y1="128.42" x2="109.40" y2="136.56" stroke="#6e4272" stroke-width="0.7"/>
<line x1="108.20" y1="128.42" x2="110.60" y2="128.42" stroke="#6e4272" stroke-width="0.7"/>
<line x1="108.20" y1="136.56" x2="110.60" y2="136.56" stroke="#6e4272" stroke-width="0.7"/>
<circle cx="109.40" cy="132.49" r="1.30" fill="#5e2f63"/>
<polyline points="46.00,166.49 58.68,166.08 71.36,164.46 84.04,163.44 96.72,159.98 109.40,153.87" fill="none" stroke="#b83448" stroke-width="1.05"/>
<rect x="44.70" y="165.19" width="2.60" height="2.60" fill="#b0223a"/>
<rect x="57.38" y="164.78" width="2.60" height="2.60" fill="#b0223a"/>
<rect x="70.06" y="163.16" width="2.60" height="2.60" fill="#b0223a"/>
<rect x="82.74" y="162.14" width="2.60" height="2.60" fill="#b0223a"/>
<line x1="96.72" y1="158.35" x2="96.72" y2="161.61" stroke="#b83448" stroke-width="0.7"/>
<line x1="95.52" y1="158.35" x2="97.92" y2="158.35" stroke="#b83448" stroke-width="0.7"/>
<line x1="95.52" y1="161.61" x2="97.92" y2="161.61" stroke="#b83448" stroke-width="0.7"/>
<rect x="95.42" y="158.68" width="2.60" height="2.60" fill="#b0223a"/>
<line x1="109.40" y1="152.65" x2="109.40" y2="155.09" stroke="#b83448" stroke-width="0.7"/>
<line x1="108.20" y1="152.65" x2="110.60" y2="152.65" stroke="#b83448" stroke-width="0.7"/>
<line x1="108.20" y1="155.09" x2="110.60" y2="155.09" stroke="#b83448" stroke-width="0.7"/>
<rect x="108.10" y="152.57" width="2.60" height="2.60" fill="#b0223a"/>
<polyline points="46.00,166.49 58.68,167.51 71.36,166.49 84.04,166.49 96.72,166.49 109.40,166.08" fill="none" stroke="#4b6b94" stroke-width="1.05"/>
<path d="M44.57 165.45 L47.43 165.45 L46.00 167.92Z" fill="#33557f"/>
<path d="M57.25 166.47 L60.11 166.47 L58.68 168.94Z" fill="#33557f"/>
<path d="M69.93 165.45 L72.79 165.45 L71.36 167.92Z" fill="#33557f"/>
<path d="M82.61 165.45 L85.47 165.45 L84.04 167.92Z" fill="#33557f"/>
<line x1="96.72" y1="165.68" x2="96.72" y2="167.31" stroke="#4b6b94" stroke-width="0.7"/>
<line x1="95.52" y1="165.68" x2="97.92" y2="165.68" stroke="#4b6b94" stroke-width="0.7"/>
<line x1="95.52" y1="167.31" x2="97.92" y2="167.31" stroke="#4b6b94" stroke-width="0.7"/>
<path d="M95.29 165.45 L98.15 165.45 L96.72 167.92Z" fill="#33557f"/>
<line x1="109.40" y1="164.46" x2="109.40" y2="167.71" stroke="#4b6b94" stroke-width="0.7"/>
<line x1="108.20" y1="164.46" x2="110.60" y2="164.46" stroke="#4b6b94" stroke-width="0.7"/>
<line x1="108.20" y1="167.71" x2="110.60" y2="167.71" stroke="#4b6b94" stroke-width="0.7"/>
<path d="M107.97 165.04 L110.83 165.04 L109.40 167.51Z" fill="#33557f"/>
<polyline points="46.00,166.49 58.68,166.90 71.36,166.08 84.04,165.47 96.72,164.46 109.40,164.46" fill="none" stroke="#66aa4c" stroke-width="1.05"/>
<path d="M44.57 167.53 L47.43 167.53 L46.00 165.06Z" fill="#5da443"/>
<path d="M57.25 167.94 L60.11 167.94 L58.68 165.47Z" fill="#5da443"/>
<path d="M69.93 167.12 L72.79 167.12 L71.36 164.65Z" fill="#5da443"/>
<path d="M82.61 166.51 L85.47 166.51 L84.04 164.04Z" fill="#5da443"/>
<line x1="96.72" y1="163.23" x2="96.72" y2="165.68" stroke="#66aa4c" stroke-width="0.7"/>
<line x1="95.52" y1="163.23" x2="97.92" y2="163.23" stroke="#66aa4c" stroke-width="0.7"/>
<line x1="95.52" y1="165.68" x2="97.92" y2="165.68" stroke="#66aa4c" stroke-width="0.7"/>
<path d="M95.29 165.50 L98.15 165.50 L96.72 163.03Z" fill="#5da443"/>
<line x1="109.40" y1="162.83" x2="109.40" y2="166.08" stroke="#66aa4c" stroke-width="0.7"/>
<line x1="108.20" y1="162.83" x2="110.60" y2="162.83" stroke="#66aa4c" stroke-width="0.7"/>
<line x1="108.20" y1="166.08" x2="110.60" y2="166.08" stroke="#66aa4c" stroke-width="0.7"/>
<path d="M107.97 165.50 L110.83 165.50 L109.40 163.03Z" fill="#5da443"/>
<line x1="138.80" y1="119.00" x2="138.80" y2="173.20" stroke="#222" stroke-width="1.3"/>
<line x1="135.60" y1="172.60" x2="138.80" y2="172.60" stroke="#333" stroke-width="1.2"/>
<text x="133.00" y="174.80" font-size="6.2" fill="#222" text-anchor="end" stroke="#222" stroke-width="0.08">0</text>
<line x1="135.60" y1="162.44" x2="138.80" y2="162.44" stroke="#333" stroke-width="1.2"/>
<text x="133.00" y="164.64" font-size="6.2" fill="#222" text-anchor="end" stroke="#222" stroke-width="0.08">50</text>
<line x1="135.60" y1="152.28" x2="138.80" y2="152.28" stroke="#333" stroke-width="1.2"/>
<text x="133.00" y="154.48" font-size="6.2" fill="#222" text-anchor="end" stroke="#222" stroke-width="0.08">100</text>
<line x1="135.60" y1="142.12" x2="138.80" y2="142.12" stroke="#333" stroke-width="1.2"/>
<text x="133.00" y="144.32" font-size="6.2" fill="#222" text-anchor="end" stroke="#222" stroke-width="0.08">150</text>
<line x1="135.60" y1="131.96" x2="138.80" y2="131.96" stroke="#333" stroke-width="1.2"/>
<text x="133.00" y="134.16" font-size="6.2" fill="#222" text-anchor="end" stroke="#222" stroke-width="0.08">200</text>
<line x1="135.60" y1="121.80" x2="138.80" y2="121.80" stroke="#333" stroke-width="1.2"/>
<text x="133.00" y="124.00" font-size="6.2" fill="#222" text-anchor="end" stroke="#222" stroke-width="0.08">250</text>
<line x1="138.20" y1="172.60" x2="214.70" y2="172.60" stroke="#222" stroke-width="1.3"/>
<line x1="148.50" y1="172.60" x2="148.50" y2="175.60" stroke="#333" stroke-width="1.2"/>
<text x="148.50" y="184.60" font-size="6.6" fill="#222" text-anchor="middle" stroke="#222" stroke-width="0.08">4</text>
<line x1="167.53" y1="172.60" x2="167.53" y2="175.60" stroke="#333" stroke-width="1.2"/>
<text x="167.53" y="184.60" font-size="6.6" fill="#222" text-anchor="middle" stroke="#222" stroke-width="0.08">5</text>
<line x1="186.56" y1="172.60" x2="186.56" y2="175.60" stroke="#333" stroke-width="1.2"/>
<text x="186.56" y="184.60" font-size="6.6" fill="#222" text-anchor="middle" stroke="#222" stroke-width="0.08">6</text>
<line x1="205.59" y1="172.60" x2="205.59" y2="175.60" stroke="#333" stroke-width="1.2"/>
<text x="205.59" y="184.60" font-size="6.6" fill="#222" text-anchor="middle" stroke="#222" stroke-width="0.08">7</text>
<text x="176.80" y="115.50" font-size="7.6" fill="#231f20" text-anchor="middle" textLength="25.40" lengthAdjust="spacingAndGlyphs" stroke="#231f20" stroke-width="0.08">MV4-11</text>
<text x="143.70" y="128.50" font-size="5.0" fill="#222" textLength="59.00" lengthAdjust="spacingAndGlyphs" stroke="#222" stroke-width="0.1">p&lt;0.001 for sh_1 and sh_2</text>
<text x="143.70" y="134.70" font-size="5.0" fill="#222" textLength="37.00" lengthAdjust="spacingAndGlyphs" stroke="#222" stroke-width="0.1">p = 0.89 for sh_3</text>
<polyline points="148.50,166.50 167.53,159.39 186.56,145.17 205.59,133.99" fill="none" stroke="#6e4272" stroke-width="1.05"/>
<circle cx="148.50" cy="166.50" r="1.30" fill="#5e2f63"/>
<circle cx="167.53" cy="159.39" r="1.30" fill="#5e2f63"/>
<line x1="186.56" y1="144.15" x2="186.56" y2="146.18" stroke="#6e4272" stroke-width="0.7"/>
<line x1="185.36" y1="144.15" x2="187.76" y2="144.15" stroke="#6e4272" stroke-width="0.7"/>
<line x1="185.36" y1="146.18" x2="187.76" y2="146.18" stroke="#6e4272" stroke-width="0.7"/>
<circle cx="186.56" cy="145.17" r="1.30" fill="#5e2f63"/>
<line x1="205.59" y1="130.94" x2="205.59" y2="137.04" stroke="#6e4272" stroke-width="0.7"/>
<line x1="204.39" y1="130.94" x2="206.79" y2="130.94" stroke="#6e4272" stroke-width="0.7"/>
<line x1="204.39" y1="137.04" x2="206.79" y2="137.04" stroke="#6e4272" stroke-width="0.7"/>
<circle cx="205.59" cy="133.99" r="1.30" fill="#5e2f63"/>
<polyline points="148.50,166.50 167.53,159.39 186.56,146.18 205.59,131.96" fill="none" stroke="#b83448" stroke-width="1.05"/>
<rect x="147.20" y="165.20" width="2.60" height="2.60" fill="#b0223a"/>
<rect x="166.23" y="158.09" width="2.60" height="2.60" fill="#b0223a"/>
<line x1="186.56" y1="145.17" x2="186.56" y2="147.20" stroke="#b83448" stroke-width="0.7"/>
<line x1="185.36" y1="145.17" x2="187.76" y2="145.17" stroke="#b83448" stroke-width="0.7"/>
<line x1="185.36" y1="147.20" x2="187.76" y2="147.20" stroke="#b83448" stroke-width="0.7"/>
<rect x="185.26" y="144.88" width="2.60" height="2.60" fill="#b0223a"/>
<line x1="205.59" y1="129.93" x2="205.59" y2="133.99" stroke="#b83448" stroke-width="0.7"/>
<line x1="204.39" y1="129.93" x2="206.79" y2="129.93" stroke="#b83448" stroke-width="0.7"/>
<line x1="204.39" y1="133.99" x2="206.79" y2="133.99" stroke="#b83448" stroke-width="0.7"/>
<rect x="204.29" y="130.66" width="2.60" height="2.60" fill="#b0223a"/>
<polyline points="148.50,166.50 167.53,161.42 186.56,156.34 205.59,152.89" fill="none" stroke="#4b6b94" stroke-width="1.05"/>
<path d="M147.07 165.46 L149.93 165.46 L148.50 167.93Z" fill="#33557f"/>
<path d="M166.10 160.38 L168.96 160.38 L167.53 162.85Z" fill="#33557f"/>
<path d="M185.13 155.30 L187.99 155.30 L186.56 157.77Z" fill="#33557f"/>
<path d="M204.16 151.85 L207.02 151.85 L205.59 154.32Z" fill="#33557f"/>
<polyline points="148.50,166.91 167.53,165.49 186.56,161.02 205.59,155.53" fill="none" stroke="#66aa4c" stroke-width="1.05"/>
<path d="M147.07 167.95 L149.93 167.95 L148.50 165.48Z" fill="#5da443"/>
<path d="M166.10 166.53 L168.96 166.53 L167.53 164.06Z" fill="#5da443"/>
<path d="M185.13 162.06 L187.99 162.06 L186.56 159.59Z" fill="#5da443"/>
<path d="M204.16 156.57 L207.02 156.57 L205.59 154.10Z" fill="#5da443"/>
<line x1="237.90" y1="119.00" x2="237.90" y2="173.20" stroke="#222" stroke-width="1.3"/>
<line x1="234.70" y1="172.60" x2="237.90" y2="172.60" stroke="#333" stroke-width="1.2"/>
<text x="233.20" y="174.80" font-size="6.2" fill="#222" text-anchor="end" stroke="#222" stroke-width="0.08">0</text>
<line x1="234.70" y1="159.90" x2="237.90" y2="159.90" stroke="#333" stroke-width="1.2"/>
<text x="233.20" y="162.10" font-size="6.2" fill="#222" text-anchor="end" stroke="#222" stroke-width="0.08">50</text>
<line x1="234.70" y1="147.20" x2="237.90" y2="147.20" stroke="#333" stroke-width="1.2"/>
<text x="233.20" y="149.40" font-size="6.2" fill="#222" text-anchor="end" stroke="#222" stroke-width="0.08">100</text>
<line x1="234.70" y1="134.50" x2="237.90" y2="134.50" stroke="#333" stroke-width="1.2"/>
<text x="233.20" y="136.70" font-size="6.2" fill="#222" text-anchor="end" stroke="#222" stroke-width="0.08">150</text>
<line x1="234.70" y1="121.80" x2="237.90" y2="121.80" stroke="#333" stroke-width="1.2"/>
<text x="233.20" y="124.00" font-size="6.2" fill="#222" text-anchor="end" stroke="#222" stroke-width="0.08">200</text>
<line x1="237.30" y1="172.60" x2="314.50" y2="172.60" stroke="#222" stroke-width="1.3"/>
<line x1="246.00" y1="172.60" x2="246.00" y2="175.60" stroke="#333" stroke-width="1.2"/>
<text x="246.00" y="184.60" font-size="6.6" fill="#222" text-anchor="middle" stroke="#222" stroke-width="0.08">4</text>
<line x1="261.33" y1="172.60" x2="261.33" y2="175.60" stroke="#333" stroke-width="1.2"/>
<text x="261.33" y="184.60" font-size="6.6" fill="#222" text-anchor="middle" stroke="#222" stroke-width="0.08">5</text>
<line x1="276.66" y1="172.60" x2="276.66" y2="175.60" stroke="#333" stroke-width="1.2"/>
<text x="276.66" y="184.60" font-size="6.6" fill="#222" text-anchor="middle" stroke="#222" stroke-width="0.08">6</text>
<line x1="291.99" y1="172.60" x2="291.99" y2="175.60" stroke="#333" stroke-width="1.2"/>
<text x="291.99" y="184.60" font-size="6.6" fill="#222" text-anchor="middle" stroke="#222" stroke-width="0.08">7</text>
<line x1="307.32" y1="172.60" x2="307.32" y2="175.60" stroke="#333" stroke-width="1.2"/>
<text x="307.32" y="184.60" font-size="6.6" fill="#222" text-anchor="middle" stroke="#222" stroke-width="0.08">8</text>
<text x="276.45" y="116.50" font-size="7.6" fill="#231f20" text-anchor="middle" textLength="16.90" lengthAdjust="spacingAndGlyphs" stroke="#231f20" stroke-width="0.08">K562</text>
<text x="245.50" y="128.50" font-size="5.0" fill="#222" textLength="27.20" lengthAdjust="spacingAndGlyphs" stroke="#222" stroke-width="0.1">p&gt;0.1 for all</text>
<polyline points="246.00,166.25 261.33,161.17 276.66,152.79 291.99,148.47 307.32,136.28" fill="none" stroke="#6e4272" stroke-width="1.05"/>
<circle cx="246.00" cy="166.25" r="1.30" fill="#5e2f63"/>
<circle cx="261.33" cy="161.17" r="1.30" fill="#5e2f63"/>
<circle cx="276.66" cy="152.79" r="1.30" fill="#5e2f63"/>
<circle cx="291.99" cy="148.47" r="1.30" fill="#5e2f63"/>
<line x1="307.32" y1="135.01" x2="307.32" y2="137.55" stroke="#6e4272" stroke-width="0.7"/>
<line x1="306.12" y1="135.01" x2="308.52" y2="135.01" stroke="#6e4272" stroke-width="0.7"/>
<line x1="306.12" y1="137.55" x2="308.52" y2="137.55" stroke="#6e4272" stroke-width="0.7"/>
<circle cx="307.32" cy="136.28" r="1.30" fill="#5e2f63"/>
<polyline points="246.00,166.25 261.33,163.20 276.66,157.36 291.99,155.33 307.32,141.61" fill="none" stroke="#b83448" stroke-width="1.05"/>
<rect x="244.70" y="164.95" width="2.60" height="2.60" fill="#b0223a"/>
<rect x="260.03" y="161.90" width="2.60" height="2.60" fill="#b0223a"/>
<rect x="275.36" y="156.06" width="2.60" height="2.60" fill="#b0223a"/>
<line x1="291.99" y1="154.06" x2="291.99" y2="156.60" stroke="#b83448" stroke-width="0.7"/>
<line x1="290.79" y1="154.06" x2="293.19" y2="154.06" stroke="#b83448" stroke-width="0.7"/>
<line x1="290.79" y1="156.60" x2="293.19" y2="156.60" stroke="#b83448" stroke-width="0.7"/>
<rect x="290.69" y="154.03" width="2.60" height="2.60" fill="#b0223a"/>
<line x1="307.32" y1="139.58" x2="307.32" y2="143.64" stroke="#b83448" stroke-width="0.7"/>
<line x1="306.12" y1="139.58" x2="308.52" y2="139.58" stroke="#b83448" stroke-width="0.7"/>
<line x1="306.12" y1="143.64" x2="308.52" y2="143.64" stroke="#b83448" stroke-width="0.7"/>
<rect x="306.02" y="140.31" width="2.60" height="2.60" fill="#b0223a"/>
<polyline points="246.00,166.25 261.33,163.71 276.66,159.39 291.99,151.01 307.32,143.39" fill="none" stroke="#4b6b94" stroke-width="1.05"/>
<path d="M244.57 165.21 L247.43 165.21 L246.00 167.68Z" fill="#33557f"/>
<path d="M259.90 162.67 L262.76 162.67 L261.33 165.14Z" fill="#33557f"/>
<path d="M275.23 158.35 L278.09 158.35 L276.66 160.82Z" fill="#33557f"/>
<path d="M290.56 149.97 L293.42 149.97 L291.99 152.44Z" fill="#33557f"/>
<line x1="307.32" y1="141.36" x2="307.32" y2="145.42" stroke="#4b6b94" stroke-width="0.7"/>
<line x1="306.12" y1="141.36" x2="308.52" y2="141.36" stroke="#4b6b94" stroke-width="0.7"/>
<line x1="306.12" y1="145.42" x2="308.52" y2="145.42" stroke="#4b6b94" stroke-width="0.7"/>
<path d="M305.89 142.35 L308.75 142.35 L307.32 144.82Z" fill="#33557f"/>
<polyline points="246.00,166.25 261.33,163.20 276.66,158.63 291.99,153.55 307.32,142.12" fill="none" stroke="#66aa4c" stroke-width="1.05"/>
<path d="M244.57 167.29 L247.43 167.29 L246.00 164.82Z" fill="#5da443"/>
<path d="M259.90 164.24 L262.76 164.24 L261.33 161.77Z" fill="#5da443"/>
<path d="M275.23 159.67 L278.09 159.67 L276.66 157.20Z" fill="#5da443"/>
<path d="M290.56 154.59 L293.42 154.59 L291.99 152.12Z" fill="#5da443"/>
<line x1="307.32" y1="140.09" x2="307.32" y2="144.15" stroke="#66aa4c" stroke-width="0.7"/>
<line x1="306.12" y1="140.09" x2="308.52" y2="140.09" stroke="#66aa4c" stroke-width="0.7"/>
<line x1="306.12" y1="144.15" x2="308.52" y2="144.15" stroke="#66aa4c" stroke-width="0.7"/>
<path d="M305.89 143.16 L308.75 143.16 L307.32 140.69Z" fill="#5da443"/>
<line x1="337.15" y1="119.00" x2="337.15" y2="173.20" stroke="#222" stroke-width="1.3"/>
<line x1="333.95" y1="172.60" x2="337.15" y2="172.60" stroke="#333" stroke-width="1.2"/>
<text x="331.05" y="174.80" font-size="6.2" fill="#222" text-anchor="end" stroke="#222" stroke-width="0.08">0</text>
<line x1="333.95" y1="159.90" x2="337.15" y2="159.90" stroke="#333" stroke-width="1.2"/>
<text x="331.05" y="162.10" font-size="6.2" fill="#222" text-anchor="end" stroke="#222" stroke-width="0.08">50</text>
<line x1="333.95" y1="147.20" x2="337.15" y2="147.20" stroke="#333" stroke-width="1.2"/>
<text x="331.05" y="149.40" font-size="6.2" fill="#222" text-anchor="end" stroke="#222" stroke-width="0.08">100</text>
<line x1="333.95" y1="134.50" x2="337.15" y2="134.50" stroke="#333" stroke-width="1.2"/>
<text x="331.05" y="136.70" font-size="6.2" fill="#222" text-anchor="end" stroke="#222" stroke-width="0.08">150</text>
<line x1="333.95" y1="121.80" x2="337.15" y2="121.80" stroke="#333" stroke-width="1.2"/>
<text x="331.05" y="124.00" font-size="6.2" fill="#222" text-anchor="end" stroke="#222" stroke-width="0.08">200</text>
<line x1="336.55" y1="172.60" x2="413.20" y2="172.60" stroke="#222" stroke-width="1.3"/>
<line x1="346.40" y1="172.60" x2="346.40" y2="175.60" stroke="#333" stroke-width="1.2"/>
<text x="346.40" y="184.60" font-size="6.6" fill="#222" text-anchor="middle" stroke="#222" stroke-width="0.08">4</text>
<line x1="365.50" y1="172.60" x2="365.50" y2="175.60" stroke="#333" stroke-width="1.2"/>
<text x="365.50" y="184.60" font-size="6.6" fill="#222" text-anchor="middle" stroke="#222" stroke-width="0.08">5</text>
<line x1="384.60" y1="172.60" x2="384.60" y2="175.60" stroke="#333" stroke-width="1.2"/>
<text x="384.60" y="184.60" font-size="6.6" fill="#222" text-anchor="middle" stroke="#222" stroke-width="0.08">6</text>
<line x1="403.70" y1="172.60" x2="403.70" y2="175.60" stroke="#333" stroke-width="1.2"/>
<text x="403.70" y="184.60" font-size="6.6" fill="#222" text-anchor="middle" stroke="#222" stroke-width="0.08">7</text>
<text x="375.25" y="117.60" font-size="7.6" fill="#231f20" text-anchor="middle" textLength="16.90" lengthAdjust="spacingAndGlyphs" stroke="#231f20" stroke-width="0.08">HL60</text>
<text x="343.80" y="130.30" font-size="5.0" fill="#222" textLength="27.00" lengthAdjust="spacingAndGlyphs" stroke="#222" stroke-width="0.1">p&gt;0.1 for all</text>
<polyline points="346.40,164.98 365.50,159.39 384.60,151.01 403.70,129.42" fill="none" stroke="#6e4272" stroke-width="1.05"/>
<circle cx="346.40" cy="164.98" r="1.30" fill="#5e2f63"/>
<circle cx="365.50" cy="159.39" r="1.30" fill="#5e2f63"/>
<circle cx="384.60" cy="151.01" r="1.30" fill="#5e2f63"/>
<line x1="403.70" y1="126.37" x2="403.70" y2="132.47" stroke="#6e4272" stroke-width="0.7"/>
<line x1="402.50" y1="126.37" x2="404.90" y2="126.37" stroke="#6e4272" stroke-width="0.7"/>
<line x1="402.50" y1="132.47" x2="404.90" y2="132.47" stroke="#6e4272" stroke-width="0.7"/>
<circle cx="403.70" cy="129.42" r="1.30" fill="#5e2f63"/>
<polyline points="346.40,164.98 365.50,160.41 384.60,152.28 403.70,139.58" fill="none" stroke="#b83448" stroke-width="1.05"/>
<rect x="345.10" y="163.68" width="2.60" height="2.60" fill="#b0223a"/>
<rect x="364.20" y="159.11" width="2.60" height="2.60" fill="#b0223a"/>
<rect x="383.30" y="150.98" width="2.60" height="2.60" fill="#b0223a"/>
<line x1="403.70" y1="137.55" x2="403.70" y2="141.61" stroke="#b83448" stroke-width="0.7"/>
<line x1="402.50" y1="137.55" x2="404.90" y2="137.55" stroke="#b83448" stroke-width="0.7"/>
<line x1="402.50" y1="141.61" x2="404.90" y2="141.61" stroke="#b83448" stroke-width="0.7"/>
<rect x="402.40" y="138.28" width="2.60" height="2.60" fill="#b0223a"/>
<polyline points="346.40,164.98 365.50,159.90 384.60,151.77 403.70,139.07" fill="none" stroke="#4b6b94" stroke-width="1.05"/>
<path d="M344.97 163.94 L347.83 163.94 L346.40 166.41Z" fill="#33557f"/>
<path d="M364.07 158.86 L366.93 158.86 L365.50 161.33Z" fill="#33557f"/>
<path d="M383.17 150.73 L386.03 150.73 L384.60 153.20Z" fill="#33557f"/>
<line x1="403.70" y1="137.04" x2="403.70" y2="141.10" stroke="#4b6b94" stroke-width="0.7"/>
<line x1="402.50" y1="137.04" x2="404.90" y2="137.04" stroke="#4b6b94" stroke-width="0.7"/>
<line x1="402.50" y1="141.10" x2="404.90" y2="141.10" stroke="#4b6b94" stroke-width="0.7"/>
<path d="M402.27 138.03 L405.13 138.03 L403.70 140.50Z" fill="#33557f"/>
<polyline points="346.40,164.98 365.50,162.44 384.60,152.79 403.70,138.31" fill="none" stroke="#66aa4c" stroke-width="1.05"/>
<path d="M344.97 166.02 L347.83 166.02 L346.40 163.55Z" fill="#5da443"/>
<line x1="365.50" y1="161.17" x2="365.50" y2="163.71" stroke="#66aa4c" stroke-width="0.7"/>
<line x1="364.30" y1="161.17" x2="366.70" y2="161.17" stroke="#66aa4c" stroke-width="0.7"/>
<line x1="364.30" y1="163.71" x2="366.70" y2="163.71" stroke="#66aa4c" stroke-width="0.7"/>
<path d="M364.07 163.48 L366.93 163.48 L365.50 161.01Z" fill="#5da443"/>
<path d="M383.17 153.83 L386.03 153.83 L384.60 151.36Z" fill="#5da443"/>
<line x1="403.70" y1="135.77" x2="403.70" y2="140.85" stroke="#66aa4c" stroke-width="0.7"/>
<line x1="402.50" y1="135.77" x2="404.90" y2="135.77" stroke="#66aa4c" stroke-width="0.7"/>
<line x1="402.50" y1="140.85" x2="404.90" y2="140.85" stroke="#66aa4c" stroke-width="0.7"/>
<path d="M402.27 139.35 L405.13 139.35 L403.70 136.88Z" fill="#5da443"/>
<line x1="427.90" y1="129.20" x2="436.80" y2="129.20" stroke="#6e4272" stroke-width="0.9"/>
<circle cx="432.30" cy="129.20" r="1.50" fill="#5e2f63"/>
<text x="439.80" y="131.10" font-size="5.1" fill="#333" textLength="7.00" lengthAdjust="spacingAndGlyphs" stroke="#333" stroke-width="0.1">Scr</text>
<line x1="427.90" y1="137.80" x2="436.80" y2="137.80" stroke="#4b6b94" stroke-width="0.9"/>
<path d="M430.65 136.60 L433.95 136.60 L432.30 139.45Z" fill="#33557f"/>
<text x="439.80" y="139.70" font-size="5.1" fill="#333" textLength="24.40" lengthAdjust="spacingAndGlyphs" stroke="#333" stroke-width="0.1">shNCAM_1</text>
<line x1="427.90" y1="146.40" x2="436.80" y2="146.40" stroke="#66aa4c" stroke-width="0.9"/>
<path d="M430.65 147.60 L433.95 147.60 L432.30 144.75Z" fill="#5da443"/>
<text x="439.80" y="148.30" font-size="5.1" fill="#333" textLength="24.40" lengthAdjust="spacingAndGlyphs" stroke="#333" stroke-width="0.1">shNCAM_2</text>
<line x1="427.90" y1="155.00" x2="436.80" y2="155.00" stroke="#b83448" stroke-width="0.9"/>
<rect x="430.80" y="153.50" width="3.00" height="3.00" fill="#b0223a"/>
<text x="439.80" y="156.90" font-size="5.1" fill="#333" textLength="24.40" lengthAdjust="spacingAndGlyphs" stroke="#333" stroke-width="0.1">shNCAM_3</text>
<text x="15.60" y="124.00" font-size="9.8" fill="#231f20" text-anchor="middle" textLength="96.80" lengthAdjust="spacingAndGlyphs" transform="rotate(-90 15.60 124.00)">Living cells/ml (x10.000)</text>
<text x="68.15" y="198.90" font-size="9.2" fill="#231f20" text-anchor="middle" textLength="56.10" lengthAdjust="spacingAndGlyphs">Days with dox</text>
<text x="8.50" y="214.60" font-size="10.6" fill="#231f20">B</text>
<line x1="44.60" y1="214.50" x2="44.60" y2="314.25" stroke="#231f20" stroke-width="1.1"/>
<line x1="41.80" y1="313.75" x2="44.60" y2="313.75" stroke="#333" stroke-width="1.2"/>
<text x="38.80" y="316.05" font-size="6.5" fill="#444" text-anchor="end" stroke="#444" stroke-width="0.08">0</text>
<line x1="41.80" y1="272.52" x2="44.60" y2="272.52" stroke="#333" stroke-width="1.2"/>
<text x="38.80" y="274.82" font-size="6.5" fill="#444" text-anchor="end" stroke="#444" stroke-width="0.08">50</text>
<line x1="41.80" y1="231.30" x2="44.60" y2="231.30" stroke="#333" stroke-width="1.2"/>
<text x="38.80" y="233.60" font-size="6.5" fill="#444" text-anchor="end" stroke="#444" stroke-width="0.08">100</text>
<line x1="44.10" y1="313.75" x2="428.70" y2="313.75" stroke="#231f20" stroke-width="1.1"/>
<rect x="52.70" y="231.30" width="4.40" height="18.96" fill="#ece6ec"/>
<rect x="52.70" y="250.26" width="4.40" height="15.67" fill="#c0bdd4"/>
<rect x="52.70" y="265.93" width="4.40" height="45.68" fill="#8388aa"/>
<rect x="52.70" y="311.61" width="4.40" height="2.14" fill="#43587e"/>
<text x="57.70" y="319.75" font-size="5.0" fill="#333" text-anchor="end" textLength="6.40" lengthAdjust="spacingAndGlyphs" transform="rotate(-45 57.70 319.75)" stroke="#333" stroke-width="0.1">Scr</text>
<rect x="62.45" y="231.30" width="4.40" height="8.24" fill="#ece6ec"/>
<rect x="62.45" y="239.55" width="4.40" height="8.24" fill="#c0bdd4"/>
<rect x="62.45" y="247.79" width="4.40" height="50.29" fill="#8388aa"/>
<rect x="62.45" y="298.08" width="4.40" height="15.67" fill="#43587e"/>
<text x="67.45" y="319.75" font-size="5.0" fill="#333" text-anchor="end" textLength="24.20" lengthAdjust="spacingAndGlyphs" transform="rotate(-45 67.45 319.75)" stroke="#333" stroke-width="0.1">shNCAM_1</text>
<rect x="72.20" y="231.30" width="4.40" height="8.66" fill="#ece6ec"/>
<rect x="72.20" y="239.96" width="4.40" height="6.18" fill="#c0bdd4"/>
<rect x="72.20" y="246.14" width="4.40" height="53.59" fill="#8388aa"/>
<rect x="72.20" y="299.73" width="4.40" height="14.02" fill="#43587e"/>
<text x="77.20" y="319.75" font-size="5.0" fill="#333" text-anchor="end" textLength="24.20" lengthAdjust="spacingAndGlyphs" transform="rotate(-45 77.20 319.75)" stroke="#333" stroke-width="0.1">shNCAM_2</text>
<rect x="81.95" y="231.30" width="4.40" height="9.07" fill="#ece6ec"/>
<rect x="81.95" y="240.37" width="4.40" height="8.24" fill="#c0bdd4"/>
<rect x="81.95" y="248.61" width="4.40" height="56.07" fill="#8388aa"/>
<rect x="81.95" y="304.68" width="4.40" height="9.07" fill="#43587e"/>
<text x="86.95" y="319.75" font-size="5.0" fill="#333" text-anchor="end" textLength="24.20" lengthAdjust="spacingAndGlyphs" transform="rotate(-45 86.95 319.75)" stroke="#333" stroke-width="0.1">shNCAM_3</text>
<text x="69.30" y="226.90" font-size="5.6" fill="#333" text-anchor="middle" textLength="22.20" lengthAdjust="spacingAndGlyphs" stroke="#333" stroke-width="0.08">MOLM-14</text>
<rect x="95.30" y="231.30" width="4.40" height="14.84" fill="#ece6ec"/>
<rect x="95.30" y="246.14" width="4.40" height="18.96" fill="#c0bdd4"/>
<rect x="95.30" y="265.10" width="4.40" height="42.87" fill="#8388aa"/>
<rect x="95.30" y="307.98" width="4.40" height="5.77" fill="#43587e"/>
<text x="100.30" y="319.75" font-size="5.0" fill="#333" text-anchor="end" textLength="6.40" lengthAdjust="spacingAndGlyphs" transform="rotate(-45 100.30 319.75)" stroke="#333" stroke-width="0.1">Scr</text>
<rect x="105.05" y="231.30" width="4.40" height="7.42" fill="#ece6ec"/>
<rect x="105.05" y="238.72" width="4.40" height="4.95" fill="#c0bdd4"/>
<rect x="105.05" y="243.67" width="4.40" height="49.06" fill="#8388aa"/>
<rect x="105.05" y="292.73" width="4.40" height="21.02" fill="#43587e"/>
<text x="110.05" y="319.75" font-size="5.0" fill="#333" text-anchor="end" textLength="24.20" lengthAdjust="spacingAndGlyphs" transform="rotate(-45 110.05 319.75)" stroke="#333" stroke-width="0.1">shNCAM_1</text>
<rect x="114.80" y="231.30" width="4.40" height="2.14" fill="#ece6ec"/>
<rect x="114.80" y="233.44" width="4.40" height="3.22" fill="#c0bdd4"/>
<rect x="114.80" y="236.66" width="4.40" height="60.11" fill="#8388aa"/>
<rect x="114.80" y="296.77" width="4.40" height="16.98" fill="#43587e"/>
<text x="119.80" y="319.75" font-size="5.0" fill="#333" text-anchor="end" textLength="24.20" lengthAdjust="spacingAndGlyphs" transform="rotate(-45 119.80 319.75)" stroke="#333" stroke-width="0.1">shNCAM_2</text>
<rect x="124.55" y="231.30" width="4.40" height="9.89" fill="#ece6ec"/>
<rect x="124.55" y="241.19" width="4.40" height="8.24" fill="#c0bdd4"/>
<rect x="124.55" y="249.44" width="4.40" height="51.37" fill="#8388aa"/>
<rect x="124.55" y="300.81" width="4.40" height="12.94" fill="#43587e"/>
<text x="129.55" y="319.75" font-size="5.0" fill="#333" text-anchor="end" textLength="24.20" lengthAdjust="spacingAndGlyphs" transform="rotate(-45 129.55 319.75)" stroke="#333" stroke-width="0.1">shNCAM_3</text>
<text x="112.10" y="226.90" font-size="5.6" fill="#333" text-anchor="middle" textLength="13.20" lengthAdjust="spacingAndGlyphs" stroke="#333" stroke-width="0.08">SKM1</text>
<rect x="138.60" y="231.30" width="4.40" height="18.14" fill="#ece6ec"/>
<rect x="138.60" y="249.44" width="4.40" height="16.49" fill="#c0bdd4"/>
<rect x="138.60" y="265.93" width="4.40" height="40.40" fill="#8388aa"/>
<rect x="138.60" y="306.33" width="4.40" height="7.42" fill="#43587e"/>
<text x="143.60" y="319.75" font-size="5.0" fill="#333" text-anchor="end" textLength="6.40" lengthAdjust="spacingAndGlyphs" transform="rotate(-45 143.60 319.75)" stroke="#333" stroke-width="0.1">Scr</text>
<rect x="148.35" y="231.30" width="4.40" height="10.72" fill="#ece6ec"/>
<rect x="148.35" y="242.02" width="4.40" height="7.42" fill="#c0bdd4"/>
<rect x="148.35" y="249.44" width="4.40" height="37.35" fill="#8388aa"/>
<rect x="148.35" y="286.79" width="4.40" height="26.96" fill="#43587e"/>
<text x="153.35" y="319.75" font-size="5.0" fill="#333" text-anchor="end" textLength="24.20" lengthAdjust="spacingAndGlyphs" transform="rotate(-45 153.35 319.75)" stroke="#333" stroke-width="0.1">shNCAM_1</text>
<rect x="158.10" y="231.30" width="4.40" height="9.89" fill="#ece6ec"/>
<rect x="158.10" y="241.19" width="4.40" height="7.09" fill="#c0bdd4"/>
<rect x="158.10" y="248.28" width="4.40" height="41.23" fill="#8388aa"/>
<rect x="158.10" y="289.51" width="4.40" height="24.24" fill="#43587e"/>
<text x="163.10" y="319.75" font-size="5.0" fill="#333" text-anchor="end" textLength="24.20" lengthAdjust="spacingAndGlyphs" transform="rotate(-45 163.10 319.75)" stroke="#333" stroke-width="0.1">shNCAM_2</text>
<rect x="167.85" y="231.30" width="4.40" height="9.89" fill="#ece6ec"/>
<rect x="167.85" y="241.19" width="4.40" height="7.42" fill="#c0bdd4"/>
<rect x="167.85" y="248.61" width="4.40" height="42.05" fill="#8388aa"/>
<rect x="167.85" y="290.66" width="4.40" height="23.09" fill="#43587e"/>
<text x="172.85" y="319.75" font-size="5.0" fill="#333" text-anchor="end" textLength="24.20" lengthAdjust="spacingAndGlyphs" transform="rotate(-45 172.85 319.75)" stroke="#333" stroke-width="0.1">shNCAM_3</text>
<text x="155.40" y="226.90" font-size="5.6" fill="#333" text-anchor="middle" textLength="11.70" lengthAdjust="spacingAndGlyphs" stroke="#333" stroke-width="0.08">U937</text>
<rect x="181.10" y="231.30" width="4.40" height="18.96" fill="#ece6ec"/>
<rect x="181.10" y="250.26" width="4.40" height="17.31" fill="#c0bdd4"/>
<rect x="181.10" y="267.58" width="4.40" height="43.45" fill="#8388aa"/>
<rect x="181.10" y="311.03" width="4.40" height="2.72" fill="#43587e"/>
<text x="186.10" y="319.75" font-size="5.0" fill="#333" text-anchor="end" textLength="6.40" lengthAdjust="spacingAndGlyphs" transform="rotate(-45 186.10 319.75)" stroke="#333" stroke-width="0.1">Scr</text>
<rect x="190.85" y="231.30" width="4.40" height="3.79" fill="#ece6ec"/>
<rect x="190.85" y="235.09" width="4.40" height="3.63" fill="#c0bdd4"/>
<rect x="190.85" y="238.72" width="4.40" height="53.59" fill="#8388aa"/>
<rect x="190.85" y="292.31" width="4.40" height="21.44" fill="#43587e"/>
<text x="195.85" y="319.75" font-size="5.0" fill="#333" text-anchor="end" textLength="24.20" lengthAdjust="spacingAndGlyphs" transform="rotate(-45 195.85 319.75)" stroke="#333" stroke-width="0.1">shNCAM_1</text>
<rect x="200.60" y="231.30" width="4.40" height="3.79" fill="#ece6ec"/>
<rect x="200.60" y="235.09" width="4.40" height="3.22" fill="#c0bdd4"/>
<rect x="200.60" y="238.31" width="4.40" height="55.65" fill="#8388aa"/>
<rect x="200.60" y="293.96" width="4.40" height="19.79" fill="#43587e"/>
<text x="205.60" y="319.75" font-size="5.0" fill="#333" text-anchor="end" textLength="24.20" lengthAdjust="spacingAndGlyphs" transform="rotate(-45 205.60 319.75)" stroke="#333" stroke-width="0.1">shNCAM_2</text>
<rect x="210.35" y="231.30" width="4.40" height="12.37" fill="#ece6ec"/>
<rect x="210.35" y="243.67" width="4.40" height="8.66" fill="#c0bdd4"/>
<rect x="210.35" y="252.32" width="4.40" height="52.36" fill="#8388aa"/>
<rect x="210.35" y="304.68" width="4.40" height="9.07" fill="#43587e"/>
<text x="215.35" y="319.75" font-size="5.0" fill="#333" text-anchor="end" textLength="24.20" lengthAdjust="spacingAndGlyphs" transform="rotate(-45 215.35 319.75)" stroke="#333" stroke-width="0.1">shNCAM_3</text>
<text x="197.75" y="226.90" font-size="5.6" fill="#333" text-anchor="middle" textLength="19.70" lengthAdjust="spacingAndGlyphs" stroke="#333" stroke-width="0.08">NOMO-1</text>
<rect x="224.20" y="231.30" width="4.40" height="12.37" fill="#ece6ec"/>
<rect x="224.20" y="243.67" width="4.40" height="17.31" fill="#c0bdd4"/>
<rect x="224.20" y="260.98" width="4.40" height="45.76" fill="#8388aa"/>
<rect x="224.20" y="306.74" width="4.40" height="7.01" fill="#43587e"/>
<text x="229.20" y="319.75" font-size="5.0" fill="#333" text-anchor="end" textLength="6.40" lengthAdjust="spacingAndGlyphs" transform="rotate(-45 229.20 319.75)" stroke="#333" stroke-width="0.1">Scr</text>
<rect x="233.95" y="231.30" width="4.40" height="9.89" fill="#ece6ec"/>
<rect x="233.95" y="241.19" width="4.40" height="7.92" fill="#c0bdd4"/>
<rect x="233.95" y="249.11" width="4.40" height="55.57" fill="#8388aa"/>
<rect x="233.95" y="304.68" width="4.40" height="9.07" fill="#43587e"/>
<text x="238.95" y="319.75" font-size="5.0" fill="#333" text-anchor="end" textLength="24.20" lengthAdjust="spacingAndGlyphs" transform="rotate(-45 238.95 319.75)" stroke="#333" stroke-width="0.1">shNCAM_1</text>
<rect x="243.70" y="231.30" width="4.40" height="12.37" fill="#ece6ec"/>
<rect x="243.70" y="243.67" width="4.40" height="13.52" fill="#c0bdd4"/>
<rect x="243.70" y="257.19" width="4.40" height="49.14" fill="#8388aa"/>
<rect x="243.70" y="306.33" width="4.40" height="7.42" fill="#43587e"/>
<text x="248.70" y="319.75" font-size="5.0" fill="#333" text-anchor="end" textLength="24.20" lengthAdjust="spacingAndGlyphs" transform="rotate(-45 248.70 319.75)" stroke="#333" stroke-width="0.1">shNCAM_2</text>
<rect x="253.45" y="231.30" width="4.40" height="9.89" fill="#ece6ec"/>
<rect x="253.45" y="241.19" width="4.40" height="8.41" fill="#c0bdd4"/>
<rect x="253.45" y="249.60" width="4.40" height="55.08" fill="#8388aa"/>
<rect x="253.45" y="304.68" width="4.40" height="9.07" fill="#43587e"/>
<text x="258.45" y="319.75" font-size="5.0" fill="#333" text-anchor="end" textLength="24.20" lengthAdjust="spacingAndGlyphs" transform="rotate(-45 258.45 319.75)" stroke="#333" stroke-width="0.1">shNCAM_3</text>
<text x="240.85" y="226.90" font-size="5.6" fill="#333" text-anchor="middle" textLength="23.10" lengthAdjust="spacingAndGlyphs" stroke="#333" stroke-width="0.08">OCI-AML3</text>
<rect x="267.30" y="231.30" width="4.40" height="17.31" fill="#ece6ec"/>
<rect x="267.30" y="248.61" width="4.40" height="12.86" fill="#c0bdd4"/>
<rect x="267.30" y="261.48" width="4.40" height="45.27" fill="#8388aa"/>
<rect x="267.30" y="306.74" width="4.40" height="7.01" fill="#43587e"/>
<text x="272.30" y="319.75" font-size="5.0" fill="#333" text-anchor="end" textLength="6.40" lengthAdjust="spacingAndGlyphs" transform="rotate(-45 272.30 319.75)" stroke="#333" stroke-width="0.1">Scr</text>
<rect x="277.05" y="231.30" width="4.40" height="8.66" fill="#ece6ec"/>
<rect x="277.05" y="239.96" width="4.40" height="7.01" fill="#c0bdd4"/>
<rect x="277.05" y="246.97" width="4.40" height="45.76" fill="#8388aa"/>
<rect x="277.05" y="292.73" width="4.40" height="21.02" fill="#43587e"/>
<text x="282.05" y="319.75" font-size="5.0" fill="#333" text-anchor="end" textLength="24.20" lengthAdjust="spacingAndGlyphs" transform="rotate(-45 282.05 319.75)" stroke="#333" stroke-width="0.1">shNCAM_1</text>
<rect x="286.80" y="231.30" width="4.40" height="8.66" fill="#ece6ec"/>
<rect x="286.80" y="239.96" width="4.40" height="4.78" fill="#c0bdd4"/>
<rect x="286.80" y="244.74" width="4.40" height="47.57" fill="#8388aa"/>
<rect x="286.80" y="292.31" width="4.40" height="21.44" fill="#43587e"/>
<text x="291.80" y="319.75" font-size="5.0" fill="#333" text-anchor="end" textLength="24.20" lengthAdjust="spacingAndGlyphs" transform="rotate(-45 291.80 319.75)" stroke="#333" stroke-width="0.1">shNCAM_2</text>
<rect x="296.55" y="231.30" width="4.40" height="9.07" fill="#ece6ec"/>
<rect x="296.55" y="240.37" width="4.40" height="9.23" fill="#c0bdd4"/>
<rect x="296.55" y="249.60" width="4.40" height="50.13" fill="#8388aa"/>
<rect x="296.55" y="299.73" width="4.40" height="14.02" fill="#43587e"/>
<text x="301.55" y="319.75" font-size="5.0" fill="#333" text-anchor="end" textLength="24.20" lengthAdjust="spacingAndGlyphs" transform="rotate(-45 301.55 319.75)" stroke="#333" stroke-width="0.1">shNCAM_3</text>
<text x="283.80" y="226.90" font-size="5.6" fill="#333" text-anchor="middle" textLength="10.80" lengthAdjust="spacingAndGlyphs" stroke="#333" stroke-width="0.08">THP1</text>
<rect x="309.80" y="231.30" width="4.40" height="18.96" fill="#ece6ec"/>
<rect x="309.80" y="250.26" width="4.40" height="18.14" fill="#c0bdd4"/>
<rect x="309.80" y="268.40" width="4.40" height="41.22" fill="#8388aa"/>
<rect x="309.80" y="309.63" width="4.40" height="4.12" fill="#43587e"/>
<text x="314.80" y="319.75" font-size="5.0" fill="#333" text-anchor="end" textLength="6.40" lengthAdjust="spacingAndGlyphs" transform="rotate(-45 314.80 319.75)" stroke="#333" stroke-width="0.1">Scr</text>
<rect x="319.55" y="231.30" width="4.40" height="13.44" fill="#ece6ec"/>
<rect x="319.55" y="244.74" width="4.40" height="9.65" fill="#c0bdd4"/>
<rect x="319.55" y="254.39" width="4.40" height="51.12" fill="#8388aa"/>
<rect x="319.55" y="305.50" width="4.40" height="8.24" fill="#43587e"/>
<text x="324.55" y="319.75" font-size="5.0" fill="#333" text-anchor="end" textLength="24.20" lengthAdjust="spacingAndGlyphs" transform="rotate(-45 324.55 319.75)" stroke="#333" stroke-width="0.1">shNCAM_1</text>
<rect x="329.30" y="231.30" width="4.40" height="10.72" fill="#ece6ec"/>
<rect x="329.30" y="242.02" width="4.40" height="9.07" fill="#c0bdd4"/>
<rect x="329.30" y="251.09" width="4.40" height="51.12" fill="#8388aa"/>
<rect x="329.30" y="302.21" width="4.40" height="11.54" fill="#43587e"/>
<text x="334.30" y="319.75" font-size="5.0" fill="#333" text-anchor="end" textLength="24.20" lengthAdjust="spacingAndGlyphs" transform="rotate(-45 334.30 319.75)" stroke="#333" stroke-width="0.1">shNCAM_2</text>
<rect x="339.05" y="231.30" width="4.40" height="17.31" fill="#ece6ec"/>
<rect x="339.05" y="248.61" width="4.40" height="18.14" fill="#c0bdd4"/>
<rect x="339.05" y="266.75" width="4.40" height="42.05" fill="#8388aa"/>
<rect x="339.05" y="308.80" width="4.40" height="4.95" fill="#43587e"/>
<text x="344.05" y="319.75" font-size="5.0" fill="#333" text-anchor="end" textLength="24.20" lengthAdjust="spacingAndGlyphs" transform="rotate(-45 344.05 319.75)" stroke="#333" stroke-width="0.1">shNCAM_3</text>
<text x="326.60" y="226.90" font-size="5.6" fill="#333" text-anchor="middle" textLength="17.70" lengthAdjust="spacingAndGlyphs" stroke="#333" stroke-width="0.08">MV4-11</text>
<rect x="352.60" y="231.30" width="4.40" height="18.14" fill="#ece6ec"/>
<rect x="352.60" y="249.44" width="4.40" height="21.44" fill="#c0bdd4"/>
<rect x="352.60" y="270.88" width="4.40" height="38.75" fill="#8388aa"/>
<rect x="352.60" y="309.63" width="4.40" height="4.12" fill="#43587e"/>
<text x="357.60" y="319.75" font-size="5.0" fill="#333" text-anchor="end" textLength="6.40" lengthAdjust="spacingAndGlyphs" transform="rotate(-45 357.60 319.75)" stroke="#333" stroke-width="0.1">Scr</text>
<rect x="362.35" y="231.30" width="4.40" height="18.14" fill="#ece6ec"/>
<rect x="362.35" y="249.44" width="4.40" height="16.49" fill="#c0bdd4"/>
<rect x="362.35" y="265.93" width="4.40" height="35.45" fill="#8388aa"/>
<rect x="362.35" y="301.38" width="4.40" height="12.37" fill="#43587e"/>
<text x="367.35" y="319.75" font-size="5.0" fill="#333" text-anchor="end" textLength="24.20" lengthAdjust="spacingAndGlyphs" transform="rotate(-45 367.35 319.75)" stroke="#333" stroke-width="0.1">shNCAM_1</text>
<rect x="372.10" y="231.30" width="4.40" height="18.14" fill="#ece6ec"/>
<rect x="372.10" y="249.44" width="4.40" height="16.49" fill="#c0bdd4"/>
<rect x="372.10" y="265.93" width="4.40" height="37.10" fill="#8388aa"/>
<rect x="372.10" y="303.03" width="4.40" height="10.72" fill="#43587e"/>
<text x="377.10" y="319.75" font-size="5.0" fill="#333" text-anchor="end" textLength="24.20" lengthAdjust="spacingAndGlyphs" transform="rotate(-45 377.10 319.75)" stroke="#333" stroke-width="0.1">shNCAM_2</text>
<rect x="381.85" y="231.30" width="4.40" height="13.44" fill="#ece6ec"/>
<rect x="381.85" y="244.74" width="4.40" height="19.54" fill="#c0bdd4"/>
<rect x="381.85" y="264.28" width="4.40" height="43.70" fill="#8388aa"/>
<rect x="381.85" y="307.98" width="4.40" height="5.77" fill="#43587e"/>
<text x="386.85" y="319.75" font-size="5.0" fill="#333" text-anchor="end" textLength="24.20" lengthAdjust="spacingAndGlyphs" transform="rotate(-45 386.85 319.75)" stroke="#333" stroke-width="0.1">shNCAM_3</text>
<text x="369.20" y="226.90" font-size="5.6" fill="#333" text-anchor="middle" textLength="12.20" lengthAdjust="spacingAndGlyphs" stroke="#333" stroke-width="0.08">K562</text>
<rect x="401.60" y="231.30" width="4.40" height="17.31" fill="#ece6ec"/>
<rect x="401.60" y="248.61" width="4.40" height="18.14" fill="#c0bdd4"/>
<rect x="401.60" y="266.75" width="4.40" height="41.22" fill="#8388aa"/>
<rect x="401.60" y="307.98" width="4.40" height="5.77" fill="#43587e"/>
<text x="406.60" y="319.75" font-size="5.0" fill="#333" text-anchor="end" textLength="6.40" lengthAdjust="spacingAndGlyphs" transform="rotate(-45 406.60 319.75)" stroke="#333" stroke-width="0.1">Scr</text>
<rect x="411.35" y="231.30" width="4.40" height="15.67" fill="#ece6ec"/>
<rect x="411.35" y="246.97" width="4.40" height="15.67" fill="#c0bdd4"/>
<rect x="411.35" y="262.63" width="4.40" height="41.22" fill="#8388aa"/>
<rect x="411.35" y="303.86" width="4.40" height="9.89" fill="#43587e"/>
<text x="416.35" y="319.75" font-size="5.0" fill="#333" text-anchor="end" textLength="24.20" lengthAdjust="spacingAndGlyphs" transform="rotate(-45 416.35 319.75)" stroke="#333" stroke-width="0.1">shNCAM_1</text>
<rect x="421.10" y="231.30" width="4.40" height="18.14" fill="#ece6ec"/>
<rect x="421.10" y="249.44" width="4.40" height="17.31" fill="#c0bdd4"/>
<rect x="421.10" y="266.75" width="4.40" height="39.99" fill="#8388aa"/>
<rect x="421.10" y="306.74" width="4.40" height="7.01" fill="#43587e"/>
<text x="426.10" y="319.75" font-size="5.0" fill="#333" text-anchor="end" textLength="24.20" lengthAdjust="spacingAndGlyphs" transform="rotate(-45 426.10 319.75)" stroke="#333" stroke-width="0.1">shNCAM_2</text>
<text x="413.60" y="226.90" font-size="5.6" fill="#333" text-anchor="middle" textLength="12.70" lengthAdjust="spacingAndGlyphs" stroke="#333" stroke-width="0.08">HL60</text>
<rect x="438.20" y="222.30" width="10.60" height="5.70" fill="#43587e"/>
<text x="451.80" y="226.90" font-size="4.9" fill="#444" stroke="#444" stroke-width="0.1">subG1</text>
<rect x="438.20" y="234.00" width="10.60" height="5.70" fill="#8388aa"/>
<text x="451.80" y="238.60" font-size="4.9" fill="#444" stroke="#444" stroke-width="0.1">G0/G1</text>
<rect x="438.20" y="245.70" width="10.60" height="5.70" fill="#c0bdd4"/>
<text x="451.80" y="250.30" font-size="4.9" fill="#444" stroke="#444" stroke-width="0.1">S</text>
<rect x="438.20" y="257.40" width="10.60" height="5.70" fill="#ece6ec"/>
<text x="451.80" y="262.00" font-size="4.9" fill="#444" stroke="#444" stroke-width="0.1">G2M</text>
<text x="22.40" y="264.70" font-size="9.8" fill="#231f20" text-anchor="middle" textLength="37.00" lengthAdjust="spacingAndGlyphs" transform="rotate(-90 22.40 264.70)">CC phase</text>
<text x="8.30" y="354.70" font-size="10.6" fill="#231f20">C</text>
<line x1="47.70" y1="356.00" x2="47.70" y2="485.60" stroke="#231f20" stroke-width="1.1"/>
<line x1="44.70" y1="485.10" x2="47.70" y2="485.10" stroke="#333" stroke-width="1.2"/>
<text x="42.10" y="487.60" font-size="6.4" fill="#222" text-anchor="end" textLength="3.13" lengthAdjust="spacingAndGlyphs" stroke="#222" stroke-width="0.08">0</text>
<line x1="44.70" y1="459.80" x2="47.70" y2="459.80" stroke="#333" stroke-width="1.2"/>
<text x="42.10" y="462.30" font-size="6.4" fill="#222" text-anchor="end" textLength="6.26" lengthAdjust="spacingAndGlyphs" stroke="#222" stroke-width="0.08">20</text>
<line x1="44.70" y1="434.50" x2="47.70" y2="434.50" stroke="#333" stroke-width="1.2"/>
<text x="42.10" y="437.00" font-size="6.4" fill="#222" text-anchor="end" textLength="6.26" lengthAdjust="spacingAndGlyphs" stroke="#222" stroke-width="0.08">40</text>
<line x1="44.70" y1="409.20" x2="47.70" y2="409.20" stroke="#333" stroke-width="1.2"/>
<text x="42.10" y="411.70" font-size="6.4" fill="#222" text-anchor="end" textLength="6.26" lengthAdjust="spacingAndGlyphs" stroke="#222" stroke-width="0.08">60</text>
<line x1="44.70" y1="383.90" x2="47.70" y2="383.90" stroke="#333" stroke-width="1.2"/>
<text x="42.10" y="386.40" font-size="6.4" fill="#222" text-anchor="end" textLength="6.26" lengthAdjust="spacingAndGlyphs" stroke="#222" stroke-width="0.08">80</text>
<line x1="44.70" y1="358.60" x2="47.70" y2="358.60" stroke="#333" stroke-width="1.2"/>
<text x="42.10" y="361.10" font-size="6.4" fill="#222" text-anchor="end" textLength="9.40" lengthAdjust="spacingAndGlyphs" stroke="#222" stroke-width="0.08">100</text>
<line x1="47.20" y1="485.10" x2="325.80" y2="485.10" stroke="#231f20" stroke-width="1.1"/>
<line x1="52.30" y1="475.76" x2="52.30" y2="478.14" stroke="#444" stroke-width="0.8"/>
<line x1="51.00" y1="475.76" x2="53.60" y2="475.76" stroke="#222" stroke-width="1.1"/>
<rect x="50.00" y="478.14" width="4.60" height="6.96" fill="#6a3d6b"/>
<line x1="58.95" y1="415.55" x2="58.95" y2="425.01" stroke="#444" stroke-width="0.8"/>
<line x1="57.65" y1="415.55" x2="60.25" y2="415.55" stroke="#222" stroke-width="1.1"/>
<rect x="56.65" y="425.01" width="4.60" height="60.09" fill="#48648f"/>
<line x1="65.60" y1="419.72" x2="65.60" y2="438.55" stroke="#444" stroke-width="0.8"/>
<line x1="64.30" y1="419.72" x2="66.90" y2="419.72" stroke="#222" stroke-width="1.1"/>
<rect x="63.30" y="438.55" width="4.60" height="46.55" fill="#70aa58"/>
<line x1="72.25" y1="461.84" x2="72.25" y2="467.01" stroke="#444" stroke-width="0.8"/>
<line x1="70.95" y1="461.84" x2="73.55" y2="461.84" stroke="#222" stroke-width="1.1"/>
<rect x="69.95" y="467.01" width="4.60" height="18.09" fill="#aa2a3f"/>
<text x="63.18" y="492.00" font-size="6.5" fill="#222" text-anchor="end" textLength="26.58" lengthAdjust="spacingAndGlyphs" transform="rotate(-45 63.18 492.00)" stroke="#222" stroke-width="0.08">MOLM-14</text>
<line x1="83.00" y1="471.71" x2="83.00" y2="475.99" stroke="#444" stroke-width="0.8"/>
<line x1="81.70" y1="471.71" x2="84.30" y2="471.71" stroke="#222" stroke-width="1.1"/>
<rect x="80.70" y="475.99" width="4.60" height="9.11" fill="#6a3d6b"/>
<line x1="89.65" y1="397.96" x2="89.65" y2="413.00" stroke="#444" stroke-width="0.8"/>
<line x1="88.35" y1="397.96" x2="90.95" y2="397.96" stroke="#222" stroke-width="1.1"/>
<rect x="87.35" y="413.00" width="4.60" height="72.10" fill="#48648f"/>
<line x1="96.30" y1="404.16" x2="96.30" y2="429.69" stroke="#444" stroke-width="0.8"/>
<line x1="95.00" y1="404.16" x2="97.60" y2="404.16" stroke="#222" stroke-width="1.1"/>
<rect x="94.00" y="429.69" width="4.60" height="55.41" fill="#70aa58"/>
<line x1="102.95" y1="466.40" x2="102.95" y2="468.91" stroke="#444" stroke-width="0.8"/>
<line x1="101.65" y1="466.40" x2="104.25" y2="466.40" stroke="#222" stroke-width="1.1"/>
<rect x="100.65" y="468.91" width="4.60" height="16.19" fill="#aa2a3f"/>
<text x="93.88" y="492.00" font-size="6.5" fill="#222" text-anchor="end" textLength="16.28" lengthAdjust="spacingAndGlyphs" transform="rotate(-45 93.88 492.00)" stroke="#222" stroke-width="0.08">SKM1</text>
<line x1="114.00" y1="469.56" x2="114.00" y2="472.70" stroke="#444" stroke-width="0.8"/>
<line x1="112.70" y1="469.56" x2="115.30" y2="469.56" stroke="#222" stroke-width="1.1"/>
<rect x="111.70" y="472.70" width="4.60" height="12.40" fill="#6a3d6b"/>
<line x1="120.65" y1="412.76" x2="120.65" y2="418.31" stroke="#444" stroke-width="0.8"/>
<line x1="119.35" y1="412.76" x2="121.95" y2="412.76" stroke="#222" stroke-width="1.1"/>
<rect x="118.35" y="418.31" width="4.60" height="66.79" fill="#48648f"/>
<line x1="127.30" y1="405.30" x2="127.30" y2="418.81" stroke="#444" stroke-width="0.8"/>
<line x1="126.00" y1="405.30" x2="128.60" y2="405.30" stroke="#222" stroke-width="1.1"/>
<rect x="125.00" y="418.81" width="4.60" height="66.29" fill="#70aa58"/>
<line x1="133.95" y1="414.91" x2="133.95" y2="418.81" stroke="#444" stroke-width="0.8"/>
<line x1="132.65" y1="414.91" x2="135.25" y2="414.91" stroke="#222" stroke-width="1.1"/>
<rect x="131.65" y="418.81" width="4.60" height="66.29" fill="#aa2a3f"/>
<text x="124.88" y="492.00" font-size="6.5" fill="#222" text-anchor="end" textLength="14.30" lengthAdjust="spacingAndGlyphs" transform="rotate(-45 124.88 492.00)" stroke="#222" stroke-width="0.08">U937</text>
<line x1="145.20" y1="476.14" x2="145.20" y2="478.40" stroke="#444" stroke-width="0.8"/>
<line x1="143.90" y1="476.14" x2="146.50" y2="476.14" stroke="#222" stroke-width="1.1"/>
<rect x="142.90" y="478.40" width="4.60" height="6.70" fill="#6a3d6b"/>
<line x1="151.85" y1="430.60" x2="151.85" y2="431.84" stroke="#444" stroke-width="0.8"/>
<line x1="150.55" y1="430.60" x2="153.15" y2="430.60" stroke="#222" stroke-width="1.1"/>
<rect x="149.55" y="431.84" width="4.60" height="53.26" fill="#48648f"/>
<line x1="158.50" y1="417.32" x2="158.50" y2="426.40" stroke="#444" stroke-width="0.8"/>
<line x1="157.20" y1="417.32" x2="159.80" y2="417.32" stroke="#222" stroke-width="1.1"/>
<rect x="156.20" y="426.40" width="4.60" height="58.70" fill="#70aa58"/>
<line x1="165.15" y1="469.31" x2="165.15" y2="470.81" stroke="#444" stroke-width="0.8"/>
<line x1="163.85" y1="469.31" x2="166.45" y2="469.31" stroke="#222" stroke-width="1.1"/>
<rect x="162.85" y="470.81" width="4.60" height="14.29" fill="#aa2a3f"/>
<text x="156.08" y="492.00" font-size="6.5" fill="#222" text-anchor="end" textLength="23.92" lengthAdjust="spacingAndGlyphs" transform="rotate(-45 156.08 492.00)" stroke="#222" stroke-width="0.08">NOMO-1</text>
<line x1="176.40" y1="471.71" x2="176.40" y2="475.74" stroke="#444" stroke-width="0.8"/>
<line x1="175.10" y1="471.71" x2="177.70" y2="471.71" stroke="#222" stroke-width="1.1"/>
<rect x="174.10" y="475.74" width="4.60" height="9.36" fill="#6a3d6b"/>
<line x1="183.05" y1="455.90" x2="183.05" y2="460.81" stroke="#444" stroke-width="0.8"/>
<line x1="181.75" y1="455.90" x2="184.35" y2="455.90" stroke="#222" stroke-width="1.1"/>
<rect x="180.75" y="460.81" width="4.60" height="24.29" fill="#48648f"/>
<line x1="189.70" y1="473.36" x2="189.70" y2="474.85" stroke="#444" stroke-width="0.8"/>
<line x1="188.40" y1="473.36" x2="191.00" y2="473.36" stroke="#222" stroke-width="1.1"/>
<rect x="187.40" y="474.85" width="4.60" height="10.25" fill="#70aa58"/>
<line x1="196.35" y1="463.74" x2="196.35" y2="468.66" stroke="#444" stroke-width="0.8"/>
<line x1="195.05" y1="463.74" x2="197.65" y2="463.74" stroke="#222" stroke-width="1.1"/>
<rect x="194.05" y="468.66" width="4.60" height="16.45" fill="#aa2a3f"/>
<text x="187.28" y="492.00" font-size="6.5" fill="#222" text-anchor="end" textLength="28.24" lengthAdjust="spacingAndGlyphs" transform="rotate(-45 187.28 492.00)" stroke="#222" stroke-width="0.08">OCI-AML3</text>
<line x1="207.30" y1="467.79" x2="207.30" y2="471.69" stroke="#444" stroke-width="0.8"/>
<line x1="206.00" y1="467.79" x2="208.60" y2="467.79" stroke="#222" stroke-width="1.1"/>
<rect x="205.00" y="471.69" width="4.60" height="13.41" fill="#6a3d6b"/>
<line x1="213.95" y1="403.91" x2="213.95" y2="419.70" stroke="#444" stroke-width="0.8"/>
<line x1="212.65" y1="403.91" x2="215.25" y2="403.91" stroke="#222" stroke-width="1.1"/>
<rect x="211.65" y="419.70" width="4.60" height="65.40" fill="#48648f"/>
<line x1="220.60" y1="428.95" x2="220.60" y2="432.60" stroke="#444" stroke-width="0.8"/>
<line x1="219.30" y1="428.95" x2="221.90" y2="428.95" stroke="#222" stroke-width="1.1"/>
<rect x="218.30" y="432.60" width="4.60" height="52.50" fill="#70aa58"/>
<line x1="227.25" y1="463.11" x2="227.25" y2="466.00" stroke="#444" stroke-width="0.8"/>
<line x1="225.95" y1="463.11" x2="228.55" y2="463.11" stroke="#222" stroke-width="1.1"/>
<rect x="224.95" y="466.00" width="4.60" height="19.10" fill="#aa2a3f"/>
<text x="218.18" y="492.00" font-size="6.5" fill="#222" text-anchor="end" textLength="15.29" lengthAdjust="spacingAndGlyphs" transform="rotate(-45 218.18 492.00)" stroke="#222" stroke-width="0.08">THP1</text>
<line x1="238.00" y1="472.60" x2="238.00" y2="472.70" stroke="#444" stroke-width="0.8"/>
<line x1="236.70" y1="472.60" x2="239.30" y2="472.60" stroke="#222" stroke-width="1.1"/>
<rect x="235.70" y="472.70" width="4.60" height="12.40" fill="#6a3d6b"/>
<line x1="244.65" y1="461.21" x2="244.65" y2="461.95" stroke="#444" stroke-width="0.8"/>
<line x1="243.35" y1="461.21" x2="245.95" y2="461.21" stroke="#222" stroke-width="1.1"/>
<rect x="242.35" y="461.95" width="4.60" height="23.15" fill="#48648f"/>
<line x1="251.30" y1="461.84" x2="251.30" y2="464.10" stroke="#444" stroke-width="0.8"/>
<line x1="250.00" y1="461.84" x2="252.60" y2="461.84" stroke="#222" stroke-width="1.1"/>
<rect x="249.00" y="464.10" width="4.60" height="21.00" fill="#70aa58"/>
<line x1="257.95" y1="472.09" x2="257.95" y2="472.70" stroke="#444" stroke-width="0.8"/>
<line x1="256.65" y1="472.09" x2="259.25" y2="472.09" stroke="#222" stroke-width="1.1"/>
<rect x="255.65" y="472.70" width="4.60" height="12.40" fill="#aa2a3f"/>
<text x="248.88" y="492.00" font-size="6.5" fill="#222" text-anchor="end" textLength="20.50" lengthAdjust="spacingAndGlyphs" transform="rotate(-45 248.88 492.00)" stroke="#222" stroke-width="0.08">MV4-11</text>
<line x1="269.30" y1="470.45" x2="269.30" y2="473.84" stroke="#444" stroke-width="0.8"/>
<line x1="268.00" y1="470.45" x2="270.60" y2="470.45" stroke="#222" stroke-width="1.1"/>
<rect x="267.00" y="473.84" width="4.60" height="11.26" fill="#6a3d6b"/>
<line x1="275.95" y1="464.50" x2="275.95" y2="466.76" stroke="#444" stroke-width="0.8"/>
<line x1="274.65" y1="464.50" x2="277.25" y2="464.50" stroke="#222" stroke-width="1.1"/>
<rect x="273.65" y="466.76" width="4.60" height="18.34" fill="#48648f"/>
<line x1="282.60" y1="465.51" x2="282.60" y2="467.90" stroke="#444" stroke-width="0.8"/>
<line x1="281.30" y1="465.51" x2="283.90" y2="465.51" stroke="#222" stroke-width="1.1"/>
<rect x="280.30" y="467.90" width="4.60" height="17.20" fill="#70aa58"/>
<line x1="289.25" y1="472.60" x2="289.25" y2="474.85" stroke="#444" stroke-width="0.8"/>
<line x1="287.95" y1="472.60" x2="290.55" y2="472.60" stroke="#222" stroke-width="1.1"/>
<rect x="286.95" y="474.85" width="4.60" height="10.25" fill="#aa2a3f"/>
<text x="280.17" y="492.00" font-size="6.5" fill="#222" text-anchor="end" textLength="13.97" lengthAdjust="spacingAndGlyphs" transform="rotate(-45 280.17 492.00)" stroke="#222" stroke-width="0.08">K562</text>
<line x1="300.10" y1="474.75" x2="300.10" y2="474.85" stroke="#444" stroke-width="0.8"/>
<line x1="298.80" y1="474.75" x2="301.40" y2="474.75" stroke="#222" stroke-width="1.1"/>
<rect x="297.80" y="474.85" width="4.60" height="10.25" fill="#6a3d6b"/>
<line x1="306.75" y1="470.45" x2="306.75" y2="476.75" stroke="#444" stroke-width="0.8"/>
<line x1="305.45" y1="470.45" x2="308.05" y2="470.45" stroke="#222" stroke-width="1.1"/>
<rect x="304.45" y="476.75" width="4.60" height="8.35" fill="#48648f"/>
<line x1="313.40" y1="465.89" x2="313.40" y2="468.15" stroke="#444" stroke-width="0.8"/>
<line x1="312.10" y1="465.89" x2="314.70" y2="465.89" stroke="#222" stroke-width="1.1"/>
<rect x="311.10" y="468.15" width="4.60" height="16.95" fill="#70aa58"/>
<text x="307.65" y="492.00" font-size="6.5" fill="#222" text-anchor="end" textLength="14.30" lengthAdjust="spacingAndGlyphs" transform="rotate(-45 307.65 492.00)" stroke="#222" stroke-width="0.08">HL60</text>
<text x="57.70" y="401.30" font-size="5.0" fill="#222" text-anchor="middle" textLength="16.00" lengthAdjust="spacingAndGlyphs" stroke="#222" stroke-width="0.1">p=0.02</text>
<text x="58.20" y="410.90" font-size="5.0" fill="#222" text-anchor="middle" textLength="20.30" lengthAdjust="spacingAndGlyphs" stroke="#222" stroke-width="0.1">p=0.004</text>
<text x="89.00" y="387.40" font-size="5.0" fill="#222" text-anchor="middle" textLength="16.00" lengthAdjust="spacingAndGlyphs" stroke="#222" stroke-width="0.1">p=0.04</text>
<text x="86.10" y="394.40" font-size="5.0" fill="#222" text-anchor="middle" textLength="15.60" lengthAdjust="spacingAndGlyphs" stroke="#222" stroke-width="0.1">p=0.01</text>
<text x="122.40" y="402.50" font-size="5.0" fill="#222" text-anchor="middle" textLength="33.00" lengthAdjust="spacingAndGlyphs" stroke="#222" stroke-width="0.1">p&lt;0.001 for all</text>
<text x="151.10" y="411.00" font-size="5.0" fill="#222" text-anchor="middle" textLength="17.90" lengthAdjust="spacingAndGlyphs" stroke="#222" stroke-width="0.1">p=0.001</text>
<text x="147.00" y="419.40" font-size="5.0" fill="#222" text-anchor="middle" textLength="15.50" lengthAdjust="spacingAndGlyphs" stroke="#222" stroke-width="0.1">p=0.00</text>
<text x="178.00" y="451.00" font-size="5.0" fill="#222" text-anchor="middle" textLength="16.00" lengthAdjust="spacingAndGlyphs" stroke="#222" stroke-width="0.1">p=0.04</text>
<text x="216.30" y="392.90" font-size="5.0" fill="#222" text-anchor="middle" textLength="18.90" lengthAdjust="spacingAndGlyphs" stroke="#222" stroke-width="0.1">p=0.005</text>
<text x="210.40" y="401.00" font-size="5.0" fill="#222" text-anchor="middle" textLength="18.30" lengthAdjust="spacingAndGlyphs" stroke="#222" stroke-width="0.1">p=0.007</text>
<text x="243.90" y="449.80" font-size="5.0" fill="#222" text-anchor="middle" textLength="16.20" lengthAdjust="spacingAndGlyphs" stroke="#222" stroke-width="0.1">p=0.02</text>
<text x="240.00" y="457.60" font-size="5.0" fill="#222" text-anchor="middle" textLength="15.90" lengthAdjust="spacingAndGlyphs" stroke="#222" stroke-width="0.1">p=0.01</text>
<line x1="51.30" y1="404.30" x2="66.10" y2="404.30" stroke="#3a3a3a" stroke-width="1.35"/>
<line x1="51.30" y1="412.80" x2="58.30" y2="412.80" stroke="#3a3a3a" stroke-width="1.35"/>
<line x1="83.20" y1="389.00" x2="97.10" y2="389.00" stroke="#3a3a3a" stroke-width="1.35"/>
<line x1="82.90" y1="396.50" x2="90.20" y2="396.50" stroke="#3a3a3a" stroke-width="1.35"/>
<line x1="144.70" y1="412.90" x2="158.20" y2="412.90" stroke="#3a3a3a" stroke-width="1.35"/>
<line x1="144.10" y1="421.35" x2="151.60" y2="421.35" stroke="#3a3a3a" stroke-width="1.35"/>
<line x1="175.50" y1="453.35" x2="183.25" y2="453.35" stroke="#3a3a3a" stroke-width="1.35"/>
<line x1="209.10" y1="394.80" x2="222.80" y2="394.80" stroke="#3a3a3a" stroke-width="1.35"/>
<line x1="207.40" y1="402.60" x2="215.00" y2="402.60" stroke="#3a3a3a" stroke-width="1.35"/>
<line x1="237.20" y1="451.40" x2="251.40" y2="451.40" stroke="#3a3a3a" stroke-width="1.35"/>
<line x1="237.00" y1="458.75" x2="244.40" y2="458.75" stroke="#3a3a3a" stroke-width="1.35"/>
<rect x="296.30" y="383.90" width="9.80" height="4.80" fill="#6a3d6b"/>
<text x="309.20" y="388.20" font-size="5.8" fill="#333" textLength="7.60" lengthAdjust="spacingAndGlyphs" stroke="#333" stroke-width="0.08">Scr</text>
<rect x="296.30" y="392.45" width="9.80" height="4.80" fill="#48648f"/>
<text x="309.20" y="396.75" font-size="5.8" fill="#333" textLength="24.50" lengthAdjust="spacingAndGlyphs" stroke="#333" stroke-width="0.08">shNCAM_1</text>
<rect x="296.30" y="401.00" width="9.80" height="4.80" fill="#70aa58"/>
<text x="309.20" y="405.30" font-size="5.8" fill="#333" textLength="24.50" lengthAdjust="spacingAndGlyphs" stroke="#333" stroke-width="0.08">shNCAM_2</text>
<rect x="296.30" y="409.55" width="9.80" height="4.80" fill="#aa2a3f"/>
<text x="309.20" y="413.85" font-size="5.8" fill="#333" textLength="24.50" lengthAdjust="spacingAndGlyphs" stroke="#333" stroke-width="0.08">shNCAM_3</text>
<text x="25.40" y="420.60" font-size="8.8" fill="#231f20" text-anchor="middle" textLength="74.30" lengthAdjust="spacingAndGlyphs" transform="rotate(-90 25.40 420.60)">% annexin V+ cells</text>
<text x="8.00" y="533.60" font-size="10.6" fill="#231f20">D</text>
<text x="50.55" y="543.60" font-size="6.8" fill="#222" text-anchor="middle" textLength="8.10" lengthAdjust="spacingAndGlyphs" stroke="#222" stroke-width="0.08">Scr</text>
<text x="122.80" y="542.80" font-size="6.8" fill="#222" text-anchor="middle" textLength="30.00" lengthAdjust="spacingAndGlyphs" stroke="#222" stroke-width="0.08">shNCAM_3</text>
<text x="159.00" y="572.90" font-size="6.8" fill="#222" textLength="23.00" lengthAdjust="spacingAndGlyphs" stroke="#222" stroke-width="0.08">NOMO-1</text>
<text x="158.90" y="627.00" font-size="6.9" fill="#222" textLength="15.00" lengthAdjust="spacingAndGlyphs" stroke="#222" stroke-width="0.08">SKM1</text>
<defs>
<radialGradient id="cA" cx="0.45" cy="0.45" r="0.6"><stop offset="0" stop-color="#b87aa8"/><stop offset="0.75" stop-color="#ae6ea2"/><stop offset="1" stop-color="#9670a6"/></radialGradient>
<radialGradient id="cB" cx="0.45" cy="0.45" r="0.6"><stop offset="0" stop-color="#9e5a9a"/><stop offset="0.8" stop-color="#944a91"/><stop offset="1" stop-color="#88488a"/></radialGradient>
<radialGradient id="cC" cx="0.5" cy="0.5" r="0.5"><stop offset="0" stop-color="#b7599c"/><stop offset="0.6" stop-color="#b8629f"/><stop offset="0.75" stop-color="#d7a8cf"/><stop offset="1" stop-color="#dcd3e3" stop-opacity="0"/></radialGradient>
<radialGradient id="cD" cx="0.5" cy="0.5" r="0.5"><stop offset="0" stop-color="#ae4c94"/><stop offset="0.75" stop-color="#a4428c"/><stop offset="0.9" stop-color="#b874a8"/><stop offset="1" stop-color="#d8b8d4"/></radialGradient>
<radialGradient id="cBig1" cx="0.45" cy="0.45" r="0.6"><stop offset="0" stop-color="#8a4488"/><stop offset="0.8" stop-color="#843c80"/><stop offset="1" stop-color="#7a3a7c"/></radialGradient>
<radialGradient id="cBig2" cx="0.5" cy="0.5" r="0.5"><stop offset="0" stop-color="#a54b92"/><stop offset="0.7" stop-color="#b05898"/><stop offset="0.8" stop-color="#dcb4d4"/><stop offset="1" stop-color="#ecdcea"/></radialGradient>
<radialGradient id="cBig3" cx="0.45" cy="0.45" r="0.6"><stop offset="0" stop-color="#ac62a6"/><stop offset="0.8" stop-color="#9c4c98"/><stop offset="1" stop-color="#94508e"/></radialGradient>
<radialGradient id="cBig4" cx="0.5" cy="0.5" r="0.5"><stop offset="0" stop-color="#e0a0cc"/><stop offset="0.35" stop-color="#d274b4"/><stop offset="0.85" stop-color="#cc6cae"/><stop offset="1" stop-color="#dcb0d0"/></radialGradient>
</defs>
<rect x="22.60" y="547.90" width="62.40" height="46.50" fill="#dedce8"/>
<rect x="94.00" y="547.60" width="62.10" height="46.00" fill="#e0dde8"/>
<rect x="22.90" y="595.90" width="62.10" height="55.00" fill="#e6dfe2"/>
<rect x="94.00" y="595.60" width="62.10" height="54.90" fill="#e8e3e6"/>
<circle cx="58" cy="552.8" r="2.6" fill="url(#cA)" opacity="0.25"/>
<circle cx="81.5" cy="554.8" r="2.6" fill="url(#cA)" opacity="0.2"/>
<circle cx="70.7" cy="563" r="3.3" fill="url(#cA)" opacity="0.35"/>
<circle cx="22.9" cy="586.8" r="2.0" fill="url(#cA)" opacity="0.35"/>
<circle cx="65.8" cy="554.4" r="2.9" fill="url(#cA)" opacity="0.95"/>
<circle cx="32.8" cy="577.4" r="2.6" fill="url(#cA)" opacity="0.95"/>
<circle cx="28.5" cy="581.4" r="2.9" fill="url(#cA)" opacity="0.95"/>
<circle cx="39.4" cy="575.3" r="2.9" fill="url(#cA)" opacity="0.95"/>
<circle cx="45.1" cy="574.8" r="2.6" fill="url(#cA)" opacity="0.95"/>
<circle cx="50.1" cy="574.8" r="2.9" fill="url(#cA)" opacity="0.95"/>
<circle cx="43.5" cy="579.3" r="2.6" fill="url(#cA)" opacity="0.95"/>
<circle cx="47.5" cy="580.3" r="2.6" fill="url(#cA)" opacity="0.95"/>
<circle cx="39.9" cy="582.7" r="2.9" fill="url(#cA)" opacity="0.95"/>
<circle cx="52.0" cy="588.8" r="2.9" fill="url(#cA)" opacity="0.95"/>
<rect x="22.60" y="547.90" width="25.00" height="21.60" fill="#ead8e8"/>
<circle cx="35.2" cy="559.0" r="9.6" fill="#f4ecf2"/>
<circle cx="35.2" cy="559.0" r="9.0" fill="url(#cBig1)"/>
<rect x="22.9" y="548.2" width="24.4" height="21.1" fill="none" stroke="#111" stroke-width="1.1"/>
<circle cx="99.8" cy="563.3" r="4.40" fill="#dcc2da" opacity="0.9"/>
<circle cx="108.7" cy="567.5" r="4.60" fill="#dcc2da" opacity="0.9"/>
<circle cx="110.3" cy="584.2" r="4.20" fill="#dcc2da" opacity="0.9"/>
<circle cx="102.5" cy="586.2" r="4.20" fill="#dcc2da" opacity="0.9"/>
<circle cx="99.2" cy="590.1" r="3.60" fill="#dcc2da" opacity="0.9"/>
<circle cx="120.5" cy="590.1" r="4.60" fill="#dcc2da" opacity="0.9"/>
<circle cx="100.1" cy="563.5" r="2.90" fill="url(#cD)"/>
<circle cx="109.0" cy="567.7" r="3.04" fill="url(#cD)"/>
<circle cx="110.6" cy="584.4000000000001" r="2.77" fill="url(#cD)"/>
<circle cx="102.8" cy="586.4000000000001" r="2.77" fill="url(#cD)"/>
<circle cx="99.5" cy="590.3000000000001" r="2.38" fill="url(#cD)"/>
<circle cx="120.8" cy="590.3000000000001" r="3.04" fill="url(#cD)"/>
<circle cx="131.2" cy="592.5" r="2.2" fill="#c890c0" opacity="0.5"/>
<circle cx="152.8" cy="588.8" r="2.2" fill="#b070a8" opacity="0.5"/>
<rect x="133.20" y="547.00" width="23.50" height="24.80" fill="#efe4ee"/>
<circle cx="144.3" cy="560.7" r="8.8" fill="#e2c4dc"/>
<path d="M139.2 557.5 C140.5 554.8 143.5 555.5 144.2 557.0 C145.2 555.2 148.6 555.0 149.6 558.0 C150.6 561.5 148.5 566.0 144.0 567.8 C139.8 566.5 137.8 561.0 139.2 557.5Z" fill="#ab4b90"/>
<rect x="133.75" y="547.55" width="22.4" height="23.7" fill="none" stroke="#111" stroke-width="1.1"/>
<circle cx="27.2" cy="607.4" r="2.9" fill="url(#cB)"/>
<circle cx="35" cy="604.1" r="2.9" fill="url(#cB)"/>
<circle cx="37.7" cy="598.5" r="2.6" fill="url(#cB)"/>
<circle cx="42.2" cy="609.7" r="2.9" fill="url(#cB)"/>
<circle cx="37" cy="616.3" r="3.1" fill="url(#cB)"/>
<circle cx="49.8" cy="612" r="2.6" fill="url(#cB)"/>
<circle cx="55.3" cy="610" r="3.1" fill="url(#cB)"/>
<circle cx="79.5" cy="612.9" r="2.9" fill="url(#cB)"/>
<circle cx="78.6" cy="621.8" r="2.4" fill="url(#cB)"/>
<circle cx="44.8" cy="629.6" r="2.4" fill="url(#cB)"/>
<circle cx="49.4" cy="636.4" r="2.4" fill="url(#cB)"/>
<circle cx="57.3" cy="632.9" r="2.6" fill="url(#cB)"/>
<circle cx="69.7" cy="636.8" r="2.9" fill="url(#cB)"/>
<circle cx="64.7" cy="639.4" r="2.4" fill="url(#cB)"/>
<circle cx="74.3" cy="641.1" r="2.1" fill="url(#cB)"/>
<circle cx="74.9" cy="646" r="2.4" fill="url(#cB)"/>
<circle cx="80.8" cy="647.3" r="2.6" fill="url(#cB)"/>
<circle cx="63.8" cy="649.5" r="2.1" fill="url(#cB)"/>
<circle cx="71" cy="649.5" r="2.1" fill="url(#cB)"/>
<circle cx="42.9" cy="634.8" r="2.6" fill="url(#cB)"/>
<rect x="22.90" y="632.00" width="23.30" height="18.90" fill="#ece4ea"/>
<circle cx="33.1" cy="641.4" r="7.8" fill="url(#cBig3)"/>
<rect x="23.45" y="632.55" width="22.2" height="17.9" fill="none" stroke="#111" stroke-width="1.1"/>
<circle cx="98.8" cy="598" r="2.69" fill="url(#cD)"/>
<circle cx="114.2" cy="598.2" r="2.69" fill="url(#cD)"/>
<circle cx="114.5" cy="602.8" r="2.69" fill="url(#cD)"/>
<circle cx="114.2" cy="607.6" r="2.91" fill="url(#cD)"/>
<circle cx="121.8" cy="608" r="3.81" fill="url(#cD)"/>
<circle cx="97.9" cy="623.7" r="3.25" fill="url(#cD)"/>
<circle cx="103.1" cy="621.1" r="2.35" fill="url(#cD)"/>
<circle cx="105.7" cy="625" r="2.69" fill="url(#cD)"/>
<circle cx="111" cy="619.8" r="2.35" fill="url(#cD)"/>
<circle cx="145.4" cy="629" r="2.91" fill="url(#cD)"/>
<circle cx="96.6" cy="640.1" r="3.25" fill="url(#cD)"/>
<circle cx="128.4" cy="641.6" r="3.25" fill="url(#cD)"/>
<circle cx="134.5" cy="646.4" r="2.69" fill="url(#cD)"/>
<circle cx="143.7" cy="641.4" r="3.25" fill="url(#cD)"/>
<circle cx="151.5" cy="648.6" r="2.91" fill="url(#cD)"/>
<rect x="133.80" y="595.40" width="22.90" height="21.80" fill="#f0e4ec"/>
<circle cx="144.3" cy="606.7" r="8.4" fill="url(#cBig4)"/>
<rect x="134.35" y="595.95" width="21.8" height="20.7" fill="none" stroke="#111" stroke-width="1.1"/>
<rect x="22.00" y="594.40" width="64.00" height="1.50" fill="#ffffff"/>
<rect x="93.50" y="593.60" width="64.00" height="2.00" fill="#ffffff"/>
<path d="M231.25 586.20 L231.25 586.00 L233.75 585.25 L235.62 583.75 L237.25 580.00 L238.25 572.50 L239.12 562.50 L240.00 555.00 L241.00 548.75 L241.88 546.25 L243.12 544.00 L244.00 541.25 L244.62 539.38 L245.38 541.88 L246.50 546.25 L247.75 553.75 L248.75 561.25 L250.00 570.00 L251.25 577.50 L252.50 582.50 L253.75 585.62 L255.00 586.00 L255.00 586.20Z" fill="#a898b8"/>
<path d="M235.00 586.20 L235.00 586.00 L236.88 585.38 L238.12 583.75 L239.00 580.00 L239.75 570.00 L240.38 563.75 L241.25 557.50 L242.75 548.75 L244.38 543.12 L245.62 539.38 L246.88 543.75 L248.12 548.75 L249.38 557.50 L251.25 563.12 L253.12 567.50 L255.00 571.25 L256.88 576.25 L258.75 579.38 L260.62 583.12 L261.88 586.00 L261.88 586.20Z" fill="rgb(177,54,54)" fill-opacity="0.65"/>
<rect x="221.00" y="584.90" width="52.10" height="1.3" fill="#8c3c50" opacity="0.85"/>
<rect x="221.00" y="534.60" width="52.10" height="51.60" fill="none" stroke="#151515" stroke-width="1.25"/>
<line x1="218.00" y1="537.30" x2="221.00" y2="537.30" stroke="#222" stroke-width="1.0"/>
<text x="214.80" y="539.20" font-size="5.4" fill="#555" text-anchor="end" stroke="#555" stroke-width="0.1">150</text>
<line x1="218.00" y1="553.60" x2="221.00" y2="553.60" stroke="#222" stroke-width="1.0"/>
<text x="214.80" y="555.50" font-size="5.4" fill="#555" text-anchor="end" stroke="#555" stroke-width="0.1">100</text>
<line x1="218.00" y1="569.90" x2="221.00" y2="569.90" stroke="#222" stroke-width="1.0"/>
<text x="214.80" y="571.80" font-size="5.4" fill="#555" text-anchor="end" stroke="#555" stroke-width="0.1">50</text>
<line x1="218.00" y1="586.20" x2="221.00" y2="586.20" stroke="#222" stroke-width="1.0"/>
<text x="214.80" y="588.10" font-size="5.4" fill="#555" text-anchor="end" stroke="#555" stroke-width="0.1">0</text>
<line x1="219.50" y1="540.56" x2="221.00" y2="540.56" stroke="#222" stroke-width="0.9"/>
<line x1="219.50" y1="543.82" x2="221.00" y2="543.82" stroke="#222" stroke-width="0.9"/>
<line x1="219.50" y1="547.08" x2="221.00" y2="547.08" stroke="#222" stroke-width="0.9"/>
<line x1="219.50" y1="550.34" x2="221.00" y2="550.34" stroke="#222" stroke-width="0.9"/>
<line x1="219.50" y1="556.86" x2="221.00" y2="556.86" stroke="#222" stroke-width="0.9"/>
<line x1="219.50" y1="560.12" x2="221.00" y2="560.12" stroke="#222" stroke-width="0.9"/>
<line x1="219.50" y1="563.38" x2="221.00" y2="563.38" stroke="#222" stroke-width="0.9"/>
<line x1="219.50" y1="566.64" x2="221.00" y2="566.64" stroke="#222" stroke-width="0.9"/>
<line x1="219.50" y1="573.16" x2="221.00" y2="573.16" stroke="#222" stroke-width="0.9"/>
<line x1="219.50" y1="576.42" x2="221.00" y2="576.42" stroke="#222" stroke-width="0.9"/>
<line x1="219.50" y1="579.68" x2="221.00" y2="579.68" stroke="#222" stroke-width="0.9"/>
<line x1="219.50" y1="582.94" x2="221.00" y2="582.94" stroke="#222" stroke-width="0.9"/>
<line x1="221.80" y1="586.20" x2="221.80" y2="588.20" stroke="#222" stroke-width="0.9"/>
<line x1="224.69" y1="586.20" x2="224.69" y2="587.80" stroke="#222" stroke-width="0.75"/>
<line x1="226.38" y1="586.20" x2="226.38" y2="587.80" stroke="#222" stroke-width="0.75"/>
<line x1="227.58" y1="586.20" x2="227.58" y2="587.80" stroke="#222" stroke-width="0.75"/>
<line x1="228.51" y1="586.20" x2="228.51" y2="587.80" stroke="#222" stroke-width="0.75"/>
<line x1="229.27" y1="586.20" x2="229.27" y2="587.80" stroke="#222" stroke-width="0.75"/>
<line x1="229.91" y1="586.20" x2="229.91" y2="587.80" stroke="#222" stroke-width="0.75"/>
<line x1="230.47" y1="586.20" x2="230.47" y2="587.80" stroke="#222" stroke-width="0.75"/>
<line x1="230.96" y1="586.20" x2="230.96" y2="587.80" stroke="#222" stroke-width="0.75"/>
<text x="218.20" y="597.70" font-size="5.0" fill="#555">10<tspan dy="-1.9" font-size="3.3">0</tspan></text>
<line x1="231.40" y1="586.20" x2="231.40" y2="588.20" stroke="#222" stroke-width="0.9"/>
<line x1="234.29" y1="586.20" x2="234.29" y2="587.80" stroke="#222" stroke-width="0.75"/>
<line x1="235.98" y1="586.20" x2="235.98" y2="587.80" stroke="#222" stroke-width="0.75"/>
<line x1="237.18" y1="586.20" x2="237.18" y2="587.80" stroke="#222" stroke-width="0.75"/>
<line x1="238.11" y1="586.20" x2="238.11" y2="587.80" stroke="#222" stroke-width="0.75"/>
<line x1="238.87" y1="586.20" x2="238.87" y2="587.80" stroke="#222" stroke-width="0.75"/>
<line x1="239.51" y1="586.20" x2="239.51" y2="587.80" stroke="#222" stroke-width="0.75"/>
<line x1="240.07" y1="586.20" x2="240.07" y2="587.80" stroke="#222" stroke-width="0.75"/>
<line x1="240.56" y1="586.20" x2="240.56" y2="587.80" stroke="#222" stroke-width="0.75"/>
<text x="227.80" y="597.70" font-size="5.0" fill="#555">10<tspan dy="-1.9" font-size="3.3">1</tspan></text>
<line x1="241.00" y1="586.20" x2="241.00" y2="588.20" stroke="#222" stroke-width="0.9"/>
<line x1="243.89" y1="586.20" x2="243.89" y2="587.80" stroke="#222" stroke-width="0.75"/>
<line x1="245.58" y1="586.20" x2="245.58" y2="587.80" stroke="#222" stroke-width="0.75"/>
<line x1="246.78" y1="586.20" x2="246.78" y2="587.80" stroke="#222" stroke-width="0.75"/>
<line x1="247.71" y1="586.20" x2="247.71" y2="587.80" stroke="#222" stroke-width="0.75"/>
<line x1="248.47" y1="586.20" x2="248.47" y2="587.80" stroke="#222" stroke-width="0.75"/>
<line x1="249.11" y1="586.20" x2="249.11" y2="587.80" stroke="#222" stroke-width="0.75"/>
<line x1="249.67" y1="586.20" x2="249.67" y2="587.80" stroke="#222" stroke-width="0.75"/>
<line x1="250.16" y1="586.20" x2="250.16" y2="587.80" stroke="#222" stroke-width="0.75"/>
<text x="237.40" y="597.70" font-size="5.0" fill="#555">10<tspan dy="-1.9" font-size="3.3">2</tspan></text>
<line x1="250.60" y1="586.20" x2="250.60" y2="588.20" stroke="#222" stroke-width="0.9"/>
<line x1="253.49" y1="586.20" x2="253.49" y2="587.80" stroke="#222" stroke-width="0.75"/>
<line x1="255.18" y1="586.20" x2="255.18" y2="587.80" stroke="#222" stroke-width="0.75"/>
<line x1="256.38" y1="586.20" x2="256.38" y2="587.80" stroke="#222" stroke-width="0.75"/>
<line x1="257.31" y1="586.20" x2="257.31" y2="587.80" stroke="#222" stroke-width="0.75"/>
<line x1="258.07" y1="586.20" x2="258.07" y2="587.80" stroke="#222" stroke-width="0.75"/>
<line x1="258.71" y1="586.20" x2="258.71" y2="587.80" stroke="#222" stroke-width="0.75"/>
<line x1="259.27" y1="586.20" x2="259.27" y2="587.80" stroke="#222" stroke-width="0.75"/>
<line x1="259.76" y1="586.20" x2="259.76" y2="587.80" stroke="#222" stroke-width="0.75"/>
<text x="247.00" y="597.70" font-size="5.0" fill="#555">10<tspan dy="-1.9" font-size="3.3">3</tspan></text>
<line x1="260.20" y1="586.20" x2="260.20" y2="588.20" stroke="#222" stroke-width="0.9"/>
<line x1="263.09" y1="586.20" x2="263.09" y2="587.80" stroke="#222" stroke-width="0.75"/>
<line x1="264.78" y1="586.20" x2="264.78" y2="587.80" stroke="#222" stroke-width="0.75"/>
<line x1="265.98" y1="586.20" x2="265.98" y2="587.80" stroke="#222" stroke-width="0.75"/>
<line x1="266.91" y1="586.20" x2="266.91" y2="587.80" stroke="#222" stroke-width="0.75"/>
<line x1="267.67" y1="586.20" x2="267.67" y2="587.80" stroke="#222" stroke-width="0.75"/>
<line x1="268.31" y1="586.20" x2="268.31" y2="587.80" stroke="#222" stroke-width="0.75"/>
<line x1="268.87" y1="586.20" x2="268.87" y2="587.80" stroke="#222" stroke-width="0.75"/>
<line x1="269.36" y1="586.20" x2="269.36" y2="587.80" stroke="#222" stroke-width="0.75"/>
<text x="256.60" y="597.70" font-size="5.0" fill="#555">10<tspan dy="-1.9" font-size="3.3">4</tspan></text>
<line x1="269.80" y1="586.20" x2="269.80" y2="588.20" stroke="#222" stroke-width="0.9"/>
<text x="266.20" y="597.70" font-size="5.0" fill="#555">10<tspan dy="-1.9" font-size="3.3">5</tspan></text>
<text x="201.40" y="560.80" font-size="7.4" fill="#222" text-anchor="middle" textLength="19.40" lengthAdjust="spacingAndGlyphs" transform="rotate(-90 201.40 560.80)" stroke="#222" stroke-width="0.08">Count</text>
<path d="M221.00 656.40 L221.00 655.80 L240.00 655.50 L246.70 654.90 L249.80 653.20 L252.00 649.70 L253.70 643.60 L255.00 634.90 L256.20 621.80 L257.20 613.10 L258.25 607.40 L259.10 613.10 L260.30 621.80 L261.00 630.00 L261.60 638.00 L262.40 646.00 L263.50 651.00 L265.00 654.00 L268.00 655.50 L273.00 655.80 L273.00 656.40Z" fill="#a898b8"/>
<path d="M221.00 656.40 L221.00 655.80 L245.00 655.40 L249.40 654.90 L253.70 653.20 L257.20 650.60 L259.00 645.30 L259.80 639.20 L260.70 626.20 L261.60 617.40 L262.40 613.10 L263.30 607.00 L264.20 613.10 L265.00 621.80 L265.90 630.50 L267.20 639.20 L268.50 646.20 L270.30 652.30 L272.00 654.90 L273.30 655.80 L273.30 656.40Z" fill="rgb(177,54,54)" fill-opacity="0.65"/>
<rect x="220.90" y="655.10" width="52.60" height="1.3" fill="#8c3c50" opacity="0.85"/>
<rect x="220.90" y="603.00" width="52.60" height="53.40" fill="none" stroke="#151515" stroke-width="1.25"/>
<line x1="217.90" y1="607.50" x2="220.90" y2="607.50" stroke="#222" stroke-width="1.0"/>
<text x="214.70" y="609.40" font-size="5.4" fill="#555" text-anchor="end" stroke="#555" stroke-width="0.1">300</text>
<line x1="217.90" y1="623.80" x2="220.90" y2="623.80" stroke="#222" stroke-width="1.0"/>
<text x="214.70" y="625.70" font-size="5.4" fill="#555" text-anchor="end" stroke="#555" stroke-width="0.1">200</text>
<line x1="217.90" y1="640.10" x2="220.90" y2="640.10" stroke="#222" stroke-width="1.0"/>
<text x="214.70" y="642.00" font-size="5.4" fill="#555" text-anchor="end" stroke="#555" stroke-width="0.1">100</text>
<line x1="217.90" y1="656.40" x2="220.90" y2="656.40" stroke="#222" stroke-width="1.0"/>
<text x="214.70" y="658.30" font-size="5.4" fill="#555" text-anchor="end" stroke="#555" stroke-width="0.1">0</text>
<line x1="219.40" y1="610.76" x2="220.90" y2="610.76" stroke="#222" stroke-width="0.9"/>
<line x1="219.40" y1="614.02" x2="220.90" y2="614.02" stroke="#222" stroke-width="0.9"/>
<line x1="219.40" y1="617.28" x2="220.90" y2="617.28" stroke="#222" stroke-width="0.9"/>
<line x1="219.40" y1="620.54" x2="220.90" y2="620.54" stroke="#222" stroke-width="0.9"/>
<line x1="219.40" y1="627.06" x2="220.90" y2="627.06" stroke="#222" stroke-width="0.9"/>
<line x1="219.40" y1="630.32" x2="220.90" y2="630.32" stroke="#222" stroke-width="0.9"/>
<line x1="219.40" y1="633.58" x2="220.90" y2="633.58" stroke="#222" stroke-width="0.9"/>
<line x1="219.40" y1="636.84" x2="220.90" y2="636.84" stroke="#222" stroke-width="0.9"/>
<line x1="219.40" y1="643.36" x2="220.90" y2="643.36" stroke="#222" stroke-width="0.9"/>
<line x1="219.40" y1="646.62" x2="220.90" y2="646.62" stroke="#222" stroke-width="0.9"/>
<line x1="219.40" y1="649.88" x2="220.90" y2="649.88" stroke="#222" stroke-width="0.9"/>
<line x1="219.40" y1="653.14" x2="220.90" y2="653.14" stroke="#222" stroke-width="0.9"/>
<line x1="221.70" y1="656.40" x2="221.70" y2="658.40" stroke="#222" stroke-width="0.9"/>
<line x1="224.59" y1="656.40" x2="224.59" y2="658.00" stroke="#222" stroke-width="0.75"/>
<line x1="226.28" y1="656.40" x2="226.28" y2="658.00" stroke="#222" stroke-width="0.75"/>
<line x1="227.48" y1="656.40" x2="227.48" y2="658.00" stroke="#222" stroke-width="0.75"/>
<line x1="228.41" y1="656.40" x2="228.41" y2="658.00" stroke="#222" stroke-width="0.75"/>
<line x1="229.17" y1="656.40" x2="229.17" y2="658.00" stroke="#222" stroke-width="0.75"/>
<line x1="229.81" y1="656.40" x2="229.81" y2="658.00" stroke="#222" stroke-width="0.75"/>
<line x1="230.37" y1="656.40" x2="230.37" y2="658.00" stroke="#222" stroke-width="0.75"/>
<line x1="230.86" y1="656.40" x2="230.86" y2="658.00" stroke="#222" stroke-width="0.75"/>
<text x="218.10" y="669.00" font-size="5.0" fill="#555">10<tspan dy="-1.9" font-size="3.3">0</tspan></text>
<line x1="231.30" y1="656.40" x2="231.30" y2="658.40" stroke="#222" stroke-width="0.9"/>
<line x1="234.19" y1="656.40" x2="234.19" y2="658.00" stroke="#222" stroke-width="0.75"/>
<line x1="235.88" y1="656.40" x2="235.88" y2="658.00" stroke="#222" stroke-width="0.75"/>
<line x1="237.08" y1="656.40" x2="237.08" y2="658.00" stroke="#222" stroke-width="0.75"/>
<line x1="238.01" y1="656.40" x2="238.01" y2="658.00" stroke="#222" stroke-width="0.75"/>
<line x1="238.77" y1="656.40" x2="238.77" y2="658.00" stroke="#222" stroke-width="0.75"/>
<line x1="239.41" y1="656.40" x2="239.41" y2="658.00" stroke="#222" stroke-width="0.75"/>
<line x1="239.97" y1="656.40" x2="239.97" y2="658.00" stroke="#222" stroke-width="0.75"/>
<line x1="240.46" y1="656.40" x2="240.46" y2="658.00" stroke="#222" stroke-width="0.75"/>
<text x="227.70" y="669.00" font-size="5.0" fill="#555">10<tspan dy="-1.9" font-size="3.3">1</tspan></text>
<line x1="240.90" y1="656.40" x2="240.90" y2="658.40" stroke="#222" stroke-width="0.9"/>
<line x1="243.79" y1="656.40" x2="243.79" y2="658.00" stroke="#222" stroke-width="0.75"/>
<line x1="245.48" y1="656.40" x2="245.48" y2="658.00" stroke="#222" stroke-width="0.75"/>
<line x1="246.68" y1="656.40" x2="246.68" y2="658.00" stroke="#222" stroke-width="0.75"/>
<line x1="247.61" y1="656.40" x2="247.61" y2="658.00" stroke="#222" stroke-width="0.75"/>
<line x1="248.37" y1="656.40" x2="248.37" y2="658.00" stroke="#222" stroke-width="0.75"/>
<line x1="249.01" y1="656.40" x2="249.01" y2="658.00" stroke="#222" stroke-width="0.75"/>
<line x1="249.57" y1="656.40" x2="249.57" y2="658.00" stroke="#222" stroke-width="0.75"/>
<line x1="250.06" y1="656.40" x2="250.06" y2="658.00" stroke="#222" stroke-width="0.75"/>
<text x="237.30" y="669.00" font-size="5.0" fill="#555">10<tspan dy="-1.9" font-size="3.3">2</tspan></text>
<line x1="250.50" y1="656.40" x2="250.50" y2="658.40" stroke="#222" stroke-width="0.9"/>
<line x1="253.39" y1="656.40" x2="253.39" y2="658.00" stroke="#222" stroke-width="0.75"/>
<line x1="255.08" y1="656.40" x2="255.08" y2="658.00" stroke="#222" stroke-width="0.75"/>
<line x1="256.28" y1="656.40" x2="256.28" y2="658.00" stroke="#222" stroke-width="0.75"/>
<line x1="257.21" y1="656.40" x2="257.21" y2="658.00" stroke="#222" stroke-width="0.75"/>
<line x1="257.97" y1="656.40" x2="257.97" y2="658.00" stroke="#222" stroke-width="0.75"/>
<line x1="258.61" y1="656.40" x2="258.61" y2="658.00" stroke="#222" stroke-width="0.75"/>
<line x1="259.17" y1="656.40" x2="259.17" y2="658.00" stroke="#222" stroke-width="0.75"/>
<line x1="259.66" y1="656.40" x2="259.66" y2="658.00" stroke="#222" stroke-width="0.75"/>
<text x="246.90" y="669.00" font-size="5.0" fill="#555">10<tspan dy="-1.9" font-size="3.3">3</tspan></text>
<line x1="260.10" y1="656.40" x2="260.10" y2="658.40" stroke="#222" stroke-width="0.9"/>
<line x1="262.99" y1="656.40" x2="262.99" y2="658.00" stroke="#222" stroke-width="0.75"/>
<line x1="264.68" y1="656.40" x2="264.68" y2="658.00" stroke="#222" stroke-width="0.75"/>
<line x1="265.88" y1="656.40" x2="265.88" y2="658.00" stroke="#222" stroke-width="0.75"/>
<line x1="266.81" y1="656.40" x2="266.81" y2="658.00" stroke="#222" stroke-width="0.75"/>
<line x1="267.57" y1="656.40" x2="267.57" y2="658.00" stroke="#222" stroke-width="0.75"/>
<line x1="268.21" y1="656.40" x2="268.21" y2="658.00" stroke="#222" stroke-width="0.75"/>
<line x1="268.77" y1="656.40" x2="268.77" y2="658.00" stroke="#222" stroke-width="0.75"/>
<line x1="269.26" y1="656.40" x2="269.26" y2="658.00" stroke="#222" stroke-width="0.75"/>
<text x="256.50" y="669.00" font-size="5.0" fill="#555">10<tspan dy="-1.9" font-size="3.3">4</tspan></text>
<line x1="269.70" y1="656.40" x2="269.70" y2="658.40" stroke="#222" stroke-width="0.9"/>
<text x="266.10" y="669.00" font-size="5.0" fill="#555">10<tspan dy="-1.9" font-size="3.3">5</tspan></text>
<text x="201.40" y="633.90" font-size="7.4" fill="#222" text-anchor="middle" textLength="19.40" lengthAdjust="spacingAndGlyphs" transform="rotate(-90 201.40 633.90)" stroke="#222" stroke-width="0.08">Count</text>
<rect x="223.2" y="607.75" width="9.2" height="5.1" fill="#a98aa9" stroke="#94708f" stroke-width="0.5"/>
<rect x="223.2" y="620.3" width="9.2" height="5.3" fill="#d27a7a" stroke="#c46464" stroke-width="0.5"/>
<text x="235.90" y="612.00" font-size="4.4" fill="#777" textLength="4.90" lengthAdjust="spacingAndGlyphs" stroke="#777" stroke-width="0.2">Scr</text>
<text x="235.90" y="624.60" font-size="4.4" fill="#777" textLength="8.10" lengthAdjust="spacingAndGlyphs" stroke="#777" stroke-width="0.2">sh_3</text>
<text x="247.00" y="678.90" font-size="8.1" fill="#222" text-anchor="middle" textLength="21.60" lengthAdjust="spacingAndGlyphs">CD11b</text>
<rect x="0" y="0" width="520" height="1.5" fill="#454545"/>
<rect x="0" y="0" width="1.5" height="688" fill="#474747"/>
<rect x="0" y="686.1" width="520" height="1.9" fill="#484848"/>
<rect x="518.8" y="0" width="1.2" height="688" fill="#050505"/>
</svg>
</body></html>
